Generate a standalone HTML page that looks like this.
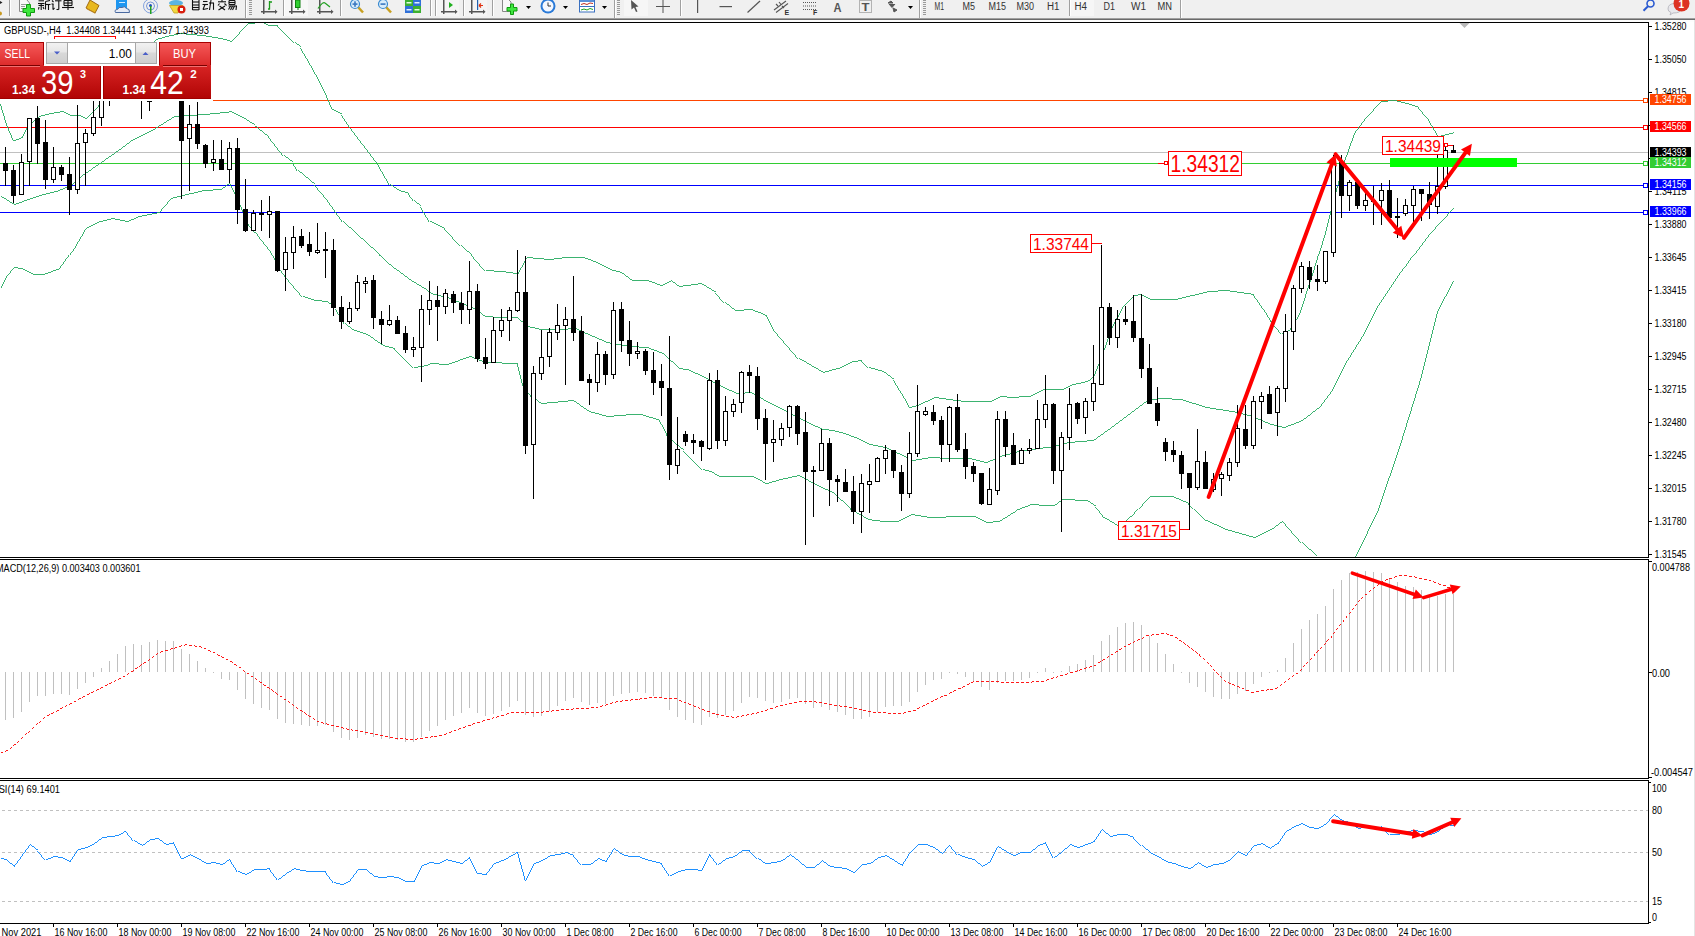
<!DOCTYPE html><html><head><meta charset="utf-8"><style>html,body{margin:0;padding:0;width:1695px;height:936px;overflow:hidden;background:#fff}svg{display:block}text{font-family:"Liberation Sans",sans-serif}</style></head><body>
<svg width="1695" height="936" viewBox="0 0 1695 936">
<defs>
<linearGradient id="gBtn" x1="0" y1="0" x2="0" y2="1"><stop offset="0" stop-color="#f65a5a"/><stop offset="1" stop-color="#dc2a2a"/></linearGradient>
<linearGradient id="gPrice" x1="0" y1="0" x2="0" y2="1"><stop offset="0" stop-color="#d82424"/><stop offset="1" stop-color="#b00404"/></linearGradient>
<linearGradient id="gSpin" x1="0" y1="0" x2="0" y2="1"><stop offset="0" stop-color="#f2f2f2"/><stop offset="0.45" stop-color="#e6e6e6"/><stop offset="0.5" stop-color="#d8d8d8"/><stop offset="1" stop-color="#cfcfcf"/></linearGradient>
<clipPath id="cMain"><rect x="0" y="23" width="1648" height="534"/></clipPath>
<clipPath id="cMacd"><rect x="0" y="560" width="1648" height="218"/></clipPath>
<clipPath id="cRsi"><rect x="0" y="781" width="1648" height="142"/></clipPath>
</defs>
<rect x="0" y="0" width="1695" height="936" fill="#fff"/>
<g id="toolbar">
<rect x="0" y="0" width="1695" height="18" fill="#f0f0f0"/>
<rect x="0" y="18" width="1695" height="1" fill="#a0a0a0"/>
<rect x="0" y="19" width="1695" height="1" fill="#6a6a6a"/>
<rect x="0" y="20" width="1695" height="2" fill="#fdfdfd"/>
<path d="M0 1 L2.5 2.5 L0 4 Z" fill="#222"/>
<circle cx="0" cy="13.5" r="2" fill="#c89a20"/>
<rect x="9" y="0" width="1" height="16" fill="#a0a0a0"/>
<rect x="10" y="0" width="1" height="16" fill="#fff"/>
<path d="M19.5 0 V11.5 H29.5 V3 L27 0" fill="#fafafa" stroke="#8a8a8a" stroke-width="1"/>
<rect x="21" y="4" width="5" height="1" fill="#999"/><rect x="21" y="6" width="4" height="1" fill="#999"/><rect x="21" y="8" width="3" height="1" fill="#999"/>
<path d="M26.5 4.5 H30.5 V8.5 H34.5 V12.5 H30.5 V16 H26.5 V12.5 H23 V8.5 H26.5 Z" fill="#3ee63e" stroke="#0f9a0f" stroke-width="1"/>
<line x1="38.5" y1="0.8" x2="44" y2="0.8" stroke="#111" stroke-width="1.1"/>
<line x1="38" y1="3.5" x2="44.5" y2="3.5" stroke="#111" stroke-width="1.1"/>
<line x1="38.5" y1="5.5" x2="44" y2="5.5" stroke="#111" stroke-width="1.1"/>
<line x1="41.2" y1="3.5" x2="41.2" y2="10" stroke="#111" stroke-width="1.1"/>
<line x1="39" y1="7" x2="38.5" y2="9.5" stroke="#111" stroke-width="1.1"/>
<line x1="43" y1="7" x2="44" y2="9" stroke="#111" stroke-width="1.1"/>
<line x1="45.5" y1="1.5" x2="50" y2="0.5" stroke="#111" stroke-width="1.1"/>
<line x1="45.5" y1="1.5" x2="45.5" y2="9.5" stroke="#111" stroke-width="1.1"/>
<line x1="45.5" y1="4.5" x2="50.5" y2="4.5" stroke="#111" stroke-width="1.1"/>
<line x1="48.5" y1="4.5" x2="48.5" y2="10" stroke="#111" stroke-width="1.1"/>
<line x1="52" y1="0.5" x2="53.5" y2="2" stroke="#111" stroke-width="1.1"/>
<line x1="51.5" y1="4" x2="53.5" y2="4" stroke="#111" stroke-width="1.1"/>
<line x1="53" y1="4" x2="53" y2="9.5" stroke="#111" stroke-width="1.1"/>
<line x1="53" y1="9.5" x2="54.5" y2="8" stroke="#111" stroke-width="1.1"/>
<line x1="55" y1="0.8" x2="61.5" y2="0.8" stroke="#111" stroke-width="1.1"/>
<line x1="58.8" y1="0.8" x2="58.8" y2="9.5" stroke="#111" stroke-width="1.1"/>
<line x1="58.8" y1="9.5" x2="56.5" y2="9.5" stroke="#111" stroke-width="1.1"/>
<line x1="64" y1="0.5" x2="72" y2="0.5" stroke="#111" stroke-width="1.1"/>
<line x1="64" y1="0.5" x2="64" y2="5.5" stroke="#111" stroke-width="1.1"/>
<line x1="72" y1="0.5" x2="72" y2="5.5" stroke="#111" stroke-width="1.1"/>
<line x1="64" y1="3" x2="72" y2="3" stroke="#111" stroke-width="1.1"/>
<line x1="64" y1="5.5" x2="72" y2="5.5" stroke="#111" stroke-width="1.1"/>
<line x1="68" y1="0.5" x2="68" y2="10" stroke="#111" stroke-width="1.1"/>
<line x1="62" y1="7.5" x2="74" y2="7.5" stroke="#111" stroke-width="1.1"/>
<path d="M90 0 L99 5.5 L95 13 L86 8 Z" fill="#e8b820" stroke="#a06a10" stroke-width="1"/>
<path d="M86 8 L95 13 L96 14 L87 9.5 Z" fill="#c89030"/>
<rect x="116" y="0" width="11" height="9" fill="#1e96f0"/>
<rect x="119" y="2" width="6" height="1" fill="#cfe8ff"/>
<path d="M115.5 12.5 Q114 9.5 117.5 9.5 Q118.5 6.5 122 7.5 Q124.5 5.5 126.5 8.5 Q130 8.5 129.5 12.5 Z" fill="#e6ebf5" stroke="#4a6aa0" stroke-width="1"/>
<circle cx="150.5" cy="6" r="7" fill="none" stroke="#6a90d8" stroke-width="1" opacity="0.8"/>
<circle cx="150.5" cy="6" r="4" fill="none" stroke="#5a80d0" stroke-width="1" opacity="0.8"/>
<circle cx="150.5" cy="5.5" r="1.5" fill="#2050c0"/>
<rect x="150" y="6" width="1.5" height="8" fill="#20a020"/>
<ellipse cx="176" cy="3" rx="7" ry="3" fill="#5ab4e0"/>
<path d="M169.5 5.5 L183 5.5 L178 13 L174 13 Z" fill="#f0d840" stroke="#c0a020" stroke-width="0.8"/>
<circle cx="181.5" cy="9.5" r="4" fill="#d82010"/>
<rect x="180" y="8" width="3" height="3" fill="#fff"/>
<line x1="192.5" y1="0" x2="192.5" y2="10" stroke="#111" stroke-width="1.1"/>
<line x1="199" y1="0" x2="199" y2="10" stroke="#111" stroke-width="1.1"/>
<line x1="192.5" y1="2" x2="199" y2="2" stroke="#111" stroke-width="1.1"/>
<line x1="192.5" y1="5" x2="199" y2="5" stroke="#111" stroke-width="1.1"/>
<line x1="192.5" y1="7.5" x2="199" y2="7.5" stroke="#111" stroke-width="1.1"/>
<line x1="192.5" y1="9.8" x2="199" y2="9.8" stroke="#111" stroke-width="1.1"/>
<line x1="203" y1="1.5" x2="207.5" y2="1.5" stroke="#111" stroke-width="1.1"/>
<line x1="202.5" y1="4.5" x2="208" y2="4.5" stroke="#111" stroke-width="1.1"/>
<line x1="205" y1="4.5" x2="203" y2="9.5" stroke="#111" stroke-width="1.1"/>
<line x1="203" y1="9.5" x2="208" y2="8.5" stroke="#111" stroke-width="1.1"/>
<line x1="209" y1="3" x2="214" y2="3" stroke="#111" stroke-width="1.1"/>
<line x1="213.5" y1="3" x2="213.5" y2="9.8" stroke="#111" stroke-width="1.1"/>
<line x1="211" y1="0" x2="209.5" y2="10" stroke="#111" stroke-width="1.1"/>
<line x1="218" y1="1.8" x2="226" y2="1.8" stroke="#111" stroke-width="1.1"/>
<line x1="222" y1="0" x2="222" y2="1.8" stroke="#111" stroke-width="1.1"/>
<line x1="219.5" y1="3.5" x2="218" y2="5.5" stroke="#111" stroke-width="1.1"/>
<line x1="224.5" y1="3.5" x2="226.5" y2="5.5" stroke="#111" stroke-width="1.1"/>
<line x1="219.5" y1="6" x2="225" y2="10" stroke="#111" stroke-width="1.1"/>
<line x1="225" y1="6" x2="218.5" y2="10" stroke="#111" stroke-width="1.1"/>
<line x1="229" y1="0.5" x2="235" y2="0.5" stroke="#111" stroke-width="1.1"/>
<line x1="229" y1="0.5" x2="229" y2="4.5" stroke="#111" stroke-width="1.1"/>
<line x1="235" y1="0.5" x2="235" y2="4.5" stroke="#111" stroke-width="1.1"/>
<line x1="229" y1="2.5" x2="235" y2="2.5" stroke="#111" stroke-width="1.1"/>
<line x1="229" y1="4.5" x2="235" y2="4.5" stroke="#111" stroke-width="1.1"/>
<line x1="228.5" y1="6" x2="237" y2="6" stroke="#111" stroke-width="1.1"/>
<line x1="236.5" y1="6" x2="236" y2="10" stroke="#111" stroke-width="1.1"/>
<line x1="230.5" y1="6" x2="228.5" y2="9.5" stroke="#111" stroke-width="1.1"/>
<line x1="232.5" y1="6" x2="230.5" y2="10" stroke="#111" stroke-width="1.1"/>
<line x1="234.5" y1="6" x2="232.5" y2="10" stroke="#111" stroke-width="1.1"/>
<rect x="245" y="0" width="1" height="18" fill="#a0a0a0"/>
<rect x="246" y="0" width="1" height="18" fill="#fff"/>
<rect x="249" y="0" width="3" height="1" fill="#9a9a9a"/>
<rect x="249" y="2" width="3" height="1" fill="#9a9a9a"/>
<rect x="249" y="4" width="3" height="1" fill="#9a9a9a"/>
<rect x="249" y="6" width="3" height="1" fill="#9a9a9a"/>
<rect x="249" y="8" width="3" height="1" fill="#9a9a9a"/>
<rect x="249" y="10" width="3" height="1" fill="#9a9a9a"/>
<rect x="249" y="12" width="3" height="1" fill="#9a9a9a"/>
<rect x="249" y="14" width="3" height="1" fill="#9a9a9a"/>
<rect x="263" y="0" width="1.5" height="14" fill="#555"/>
<rect x="261" y="11" width="14" height="1.5" fill="#555"/>
<path d="M275 9.5 L277.5 11.75 L275 14 Z" fill="#555"/>
<path d="M269.5 1 V9.5 M268 9 H270 M269.5 2 H272" stroke="#1a9a1a" stroke-width="1.3" fill="none"/>
<rect x="283" y="0" width="1" height="16" fill="#a0a0a0"/>
<rect x="284" y="0" width="1" height="16" fill="#fff"/>
<rect x="285" y="0" width="23" height="16" fill="#f7f7f7"/>
<rect x="291" y="0" width="1.5" height="14" fill="#555"/>
<rect x="289" y="11" width="14" height="1.5" fill="#555"/>
<path d="M303 9.5 L305.5 11.75 L303 14 Z" fill="#555"/>
<rect x="295.5" y="0" width="4.5" height="7.5" fill="#30d030" stroke="#108010" stroke-width="1"/>
<rect x="297.5" y="8" width="1" height="2" fill="#108010"/>
<rect x="319" y="0" width="1.5" height="14" fill="#555"/>
<rect x="317" y="11" width="14" height="1.5" fill="#555"/>
<path d="M331 9.5 L333.5 11.75 L331 14 Z" fill="#555"/>
<path d="M318 8.5 Q323 1 325 3 Q327.5 5 330 7" stroke="#22a022" stroke-width="1.2" fill="none"/>
<rect x="340" y="0" width="1" height="16" fill="#a0a0a0"/>
<rect x="341" y="0" width="1" height="16" fill="#fff"/>
<line x1="358" y1="7" x2="363" y2="12.5" stroke="#c8a020" stroke-width="2.5"/>
<circle cx="355" cy="4" r="4.5" fill="#d8ecfa" stroke="#3a8ad0" stroke-width="1.2"/>
<rect x="352.5" y="3.3" width="5" height="1.6" fill="#3a78c0"/>
<rect x="354.2" y="1.3" width="1.6" height="5.5" fill="#3a78c0"/>
<line x1="386" y1="7" x2="391" y2="12.5" stroke="#c8a020" stroke-width="2.5"/>
<circle cx="383" cy="4" r="4.5" fill="#d8ecfa" stroke="#3a8ad0" stroke-width="1.2"/>
<rect x="380.5" y="3.3" width="5" height="1.6" fill="#3a78c0"/>
<rect x="405" y="0" width="8" height="6" fill="#3cb030"/><rect x="413" y="0" width="8" height="6" fill="#3070d8"/>
<rect x="405" y="6" width="8" height="7" fill="#3070d8"/><rect x="413" y="6" width="8" height="7" fill="#3cb030"/>
<rect x="406.5" y="2" width="5" height="1.5" fill="#e0ffe0"/><rect x="414.5" y="2" width="5" height="1.5" fill="#e0f0ff"/><rect x="406.5" y="9" width="5" height="1.5" fill="#e0f0ff"/><rect x="414.5" y="9" width="5" height="1.5" fill="#e0ffe0"/>
<rect x="430" y="0" width="1" height="16" fill="#a0a0a0"/>
<rect x="431" y="0" width="1" height="16" fill="#fff"/>
<rect x="435" y="0" width="1" height="16" fill="#a0a0a0"/>
<rect x="436" y="0" width="1" height="16" fill="#fff"/>
<rect x="437" y="0" width="22" height="16" fill="#f4f4f4"/>
<rect x="443" y="0" width="1.5" height="14" fill="#555"/>
<rect x="441" y="11" width="14" height="1.5" fill="#555"/>
<path d="M455 9.5 L457.5 11.75 L455 14 Z" fill="#555"/>
<path d="M449 2 L453 5 L449 8 Z" fill="#20b020"/>
<rect x="463" y="0" width="1" height="16" fill="#a0a0a0"/>
<rect x="464" y="0" width="1" height="16" fill="#fff"/>
<rect x="465" y="0" width="22" height="16" fill="#f4f4f4"/>
<rect x="471" y="0" width="1.5" height="14" fill="#555"/>
<rect x="469" y="11" width="14" height="1.5" fill="#555"/>
<path d="M483 9.5 L485.5 11.75 L483 14 Z" fill="#555"/>
<rect x="477" y="0" width="1.2" height="10" fill="#2060b0"/><path d="M479 5.5 H483 M479 5.5 L481 3.5 M479 5.5 L481 7.5" stroke="#e03010" stroke-width="1.2" fill="none"/>
<rect x="492" y="0" width="1" height="16" fill="#a0a0a0"/>
<rect x="493" y="0" width="1" height="16" fill="#fff"/>
<path d="M502.5 0 V11.5 H511 V2 L509 0" fill="#f8f8f8" stroke="#888" stroke-width="1"/>
<path d="M510.5 4 H513.5 V7.5 H517 V11 H513.5 V14.5 H510.5 V11 H507 V7.5 H510.5 Z" fill="#3ee63e" stroke="#0f9a0f" stroke-width="1"/>
<path d="M526 6 L531 6 L528.5 9 Z" fill="#000"/>
<circle cx="548" cy="6" r="7.5" fill="#2a7ad8"/><circle cx="548" cy="6" r="5.5" fill="#f4f8ff"/>
<path d="M548 2.5 V6 H551" stroke="#333" stroke-width="1" fill="none"/>
<path d="M563 6 L568 6 L565.5 9 Z" fill="#000"/>
<rect x="579.5" y="0" width="15" height="12" fill="#fff" stroke="#3a70c0" stroke-width="1"/>
<rect x="580" y="0" width="14" height="2" fill="#5a90d8"/><rect x="580" y="6" width="14" height="1" fill="#3a70c0"/>
<path d="M581 4.5 L584 3.5 L587 4.5 L590 3 L593 3.5" stroke="#c03020" stroke-width="1" fill="none"/>
<path d="M581 10 L584 9 L587 10 L590 8.5 L593 9.5" stroke="#20a020" stroke-width="1" fill="none"/>
<path d="M602 6 L607 6 L604.5 9 Z" fill="#000"/>
<rect x="614" y="0" width="1" height="18" fill="#a0a0a0"/>
<rect x="615" y="0" width="1" height="18" fill="#fff"/>
<rect x="617" y="0" width="3" height="1" fill="#9a9a9a"/>
<rect x="617" y="2" width="3" height="1" fill="#9a9a9a"/>
<rect x="617" y="4" width="3" height="1" fill="#9a9a9a"/>
<rect x="617" y="6" width="3" height="1" fill="#9a9a9a"/>
<rect x="617" y="8" width="3" height="1" fill="#9a9a9a"/>
<rect x="617" y="10" width="3" height="1" fill="#9a9a9a"/>
<rect x="617" y="12" width="3" height="1" fill="#9a9a9a"/>
<rect x="617" y="14" width="3" height="1" fill="#9a9a9a"/>
<rect x="624" y="0" width="24" height="16" fill="#f6f6f6"/>
<path d="M631 0 L638.5 6.5 L635.5 7 L637.5 11.5 L636 12 L634 7.5 L631.5 9.5 Z" fill="#555"/>
<rect x="662.5" y="0" width="1" height="13" fill="#555"/><rect x="656" y="6" width="14" height="1" fill="#555"/>
<rect x="680" y="0" width="1" height="16" fill="#a0a0a0"/>
<rect x="681" y="0" width="1" height="16" fill="#fff"/>
<rect x="697" y="0" width="1.2" height="13" fill="#555"/>
<rect x="719.5" y="6" width="12.5" height="1.2" fill="#555"/>
<line x1="747.5" y1="12.5" x2="760" y2="1" stroke="#555" stroke-width="1.2"/>
<path d="M774 10 L786 1 M776 12.5 L788 3.5 M776 4 L778 6 M779 2 L781 4.5 M782 6 L784 8" stroke="#555" stroke-width="1.1" fill="none"/>
<text x="784.5" y="15" font-size="7" font-weight="bold" fill="#333">E</text>
<path d="M803 2.5 H816 M803 6 H816 M803 9.5 H816" stroke="#555" stroke-width="1" stroke-dasharray="1,1" fill="none"/>
<text x="813" y="15" font-size="7" font-weight="bold" fill="#333">F</text>
<text x="833.5" y="11.5" font-size="12" font-weight="bold" fill="#555" textLength="8" lengthAdjust="spacingAndGlyphs">A</text>
<rect x="859.5" y="0.5" width="12" height="12" fill="none" stroke="#777" stroke-width="1" stroke-dasharray="1,1"/>
<text x="861.5" y="10.5" font-size="11" font-weight="bold" fill="#555" textLength="8" lengthAdjust="spacingAndGlyphs">T</text>
<path d="M888 3 L891 1 L893 3 Z M889 4 L892 7.5 L895 4 M893 8 L897 10 L894 12 Z" fill="#555" stroke="#555" stroke-width="1"/>
<path d="M908 6 L913 6 L910.5 9 Z" fill="#000"/>
<rect x="919" y="0" width="1" height="18" fill="#a0a0a0"/>
<rect x="920" y="0" width="1" height="18" fill="#fff"/>
<rect x="923" y="0" width="3" height="1" fill="#9a9a9a"/>
<rect x="923" y="2" width="3" height="1" fill="#9a9a9a"/>
<rect x="923" y="4" width="3" height="1" fill="#9a9a9a"/>
<rect x="923" y="6" width="3" height="1" fill="#9a9a9a"/>
<rect x="923" y="8" width="3" height="1" fill="#9a9a9a"/>
<rect x="923" y="10" width="3" height="1" fill="#9a9a9a"/>
<rect x="923" y="12" width="3" height="1" fill="#9a9a9a"/>
<rect x="923" y="14" width="3" height="1" fill="#9a9a9a"/>
<text x="934.5" y="10.3" font-size="10" fill="#333" textLength="9.5" lengthAdjust="spacingAndGlyphs">M1</text>
<text x="962.5" y="10.3" font-size="10" fill="#333" textLength="12.5" lengthAdjust="spacingAndGlyphs">M5</text>
<text x="988.5" y="10.3" font-size="10" fill="#333" textLength="17.5" lengthAdjust="spacingAndGlyphs">M15</text>
<text x="1016.5" y="10.3" font-size="10" fill="#333" textLength="17.5" lengthAdjust="spacingAndGlyphs">M30</text>
<text x="1047" y="10.3" font-size="10" fill="#333" textLength="12.5" lengthAdjust="spacingAndGlyphs">H1</text>
<rect x="1069" y="0" width="1" height="16" fill="#a0a0a0"/>
<rect x="1070" y="0" width="1" height="16" fill="#fff"/>
<rect x="1071" y="0" width="23" height="16" fill="#f6f6f6"/>
<text x="1074.5" y="10.3" font-size="10" fill="#333" textLength="12.5" lengthAdjust="spacingAndGlyphs">H4</text>
<text x="1103.5" y="10.3" font-size="10" fill="#333" textLength="11.5" lengthAdjust="spacingAndGlyphs">D1</text>
<text x="1131" y="10.3" font-size="10" fill="#333" textLength="15" lengthAdjust="spacingAndGlyphs">W1</text>
<text x="1157.5" y="10.3" font-size="10" fill="#333" textLength="14.5" lengthAdjust="spacingAndGlyphs">MN</text>
<rect x="1180" y="0" width="1" height="18" fill="#a0a0a0"/>
<rect x="1181" y="0" width="1" height="18" fill="#fff"/>
<circle cx="1650.5" cy="3.5" r="3.5" fill="none" stroke="#2a5ad0" stroke-width="1.6"/>
<line x1="1648" y1="6.3" x2="1643.5" y2="10.8" stroke="#2a5ad0" stroke-width="2"/>
<path d="M1668 9 Q1668 3.5 1675 3.5 Q1681 3.5 1681 9 Q1681 13 1673 13 L1670 15 L1671 12.5 Q1668 11.5 1668 9 Z" fill="#e8e8ec" stroke="#b0b0b8" stroke-width="0.8"/>
<circle cx="1681.5" cy="3.5" r="8" fill="#dd3322"/>
<text x="1678.5" y="7.5" font-size="10" font-weight="bold" fill="#fff">1</text>
</g>
<rect x="1694" y="20" width="1" height="916" fill="#e4e4e4"/>
<rect x="0" y="22" width="1649" height="1" fill="#000"/>
<rect x="1648" y="22" width="1" height="536" fill="#000"/>
<rect x="0" y="557" width="1649" height="1" fill="#000"/>
<path d="M1459.5 23 L1469.5 23 L1464.5 28 Z" fill="#b8b8b8"/>
<g clip-path="url(#cMain)">
<rect x="0" y="152" width="1648" height="1" fill="#c0c0c0"/>
<rect x="0" y="163" width="1648" height="1" fill="#32cd32"/>
<rect x="0" y="185" width="1648" height="1" fill="#0000ff"/>
<rect x="0" y="212" width="1648" height="1" fill="#0000ff"/>
<rect x="0" y="127" width="1648" height="1" fill="#ff0000"/>
<rect x="213" y="100" width="1435" height="1" fill="#ff4500"/>
<polyline points="0.5,103.5 6.5,123.5 13.5,140.5 21.5,137.5 28.5,124.5 38.5,116.5 49.5,113.5 62.5,111.5 70.5,115.5 79.5,115.5 85.5,118.5 96.5,107.5 100.5,102.5 130.5,60.5 155.5,39.5 165.5,36.5 179.5,33.5 201.5,35.5 220.5,38.5 230.5,41.5 247.5,23.5 262.5,22.5 268.5,25.5 277.5,25.5 294.5,42.5 300.5,47.5 306.5,57.5 315.5,73.5 326.5,95.5 332.5,109.5 341.5,114.5 349.5,126.5 362.5,143.5 377.5,163.5 389.5,184.5 398.5,190.5 408.5,193.5 413.5,200.5 420.5,206.5 429.5,221.5 444.5,228.5 460.5,245.5 473.5,257.5 485.5,270.5 500.5,271.5 517.5,273.5 526.5,257.5 548.5,259.5 564.5,257.5 582.5,257.5 596.5,262.5 609.5,269.5 620.5,272.5 631.5,280.5 646.5,280.5 660.5,285.5 670.5,280.5 678.5,286.5 700.5,283.5 715.5,292.5 724.5,302.5 734.5,310.5 750.5,309.5 766.5,315.5 774.5,330.5 798.5,358.5 822.5,372.5 832.5,369.5 840.5,367.5 851.5,361.5 861.5,360.5 868.5,367.5 882.5,371.5 893.5,379.5 904.5,397.5 909.5,407.5 916.5,405.5 934.5,397.5 948.5,399.5 963.5,401.5 989.5,401.5 1000.5,396.5 1010.5,397.5 1028.5,396.5 1042.5,389.5 1061.5,389.5 1072.5,384.5 1086.5,381.5 1093.5,376.5 1101.5,356.5 1112.5,325.5 1123.5,305.5 1133.5,295.5 1140.5,294.5 1149.5,299.5 1174.5,299.5 1208.5,291.5 1225.5,290.5 1253.5,294.5 1265.5,311.5 1271.5,321.5 1281.5,333.5 1289.5,329.5 1299.5,313.5 1310.5,279.5 1314.5,267.5 1324.5,235.5 1335.5,192.5 1344.5,160.5 1354.5,132.5 1365.5,117.5 1380.5,101.5 1393.5,100.5 1406.5,103.5 1418.5,107.5 1427.5,117.5 1438.5,136.5 1453.5,132.5" fill="none" stroke="#26ab61" stroke-width="1" shape-rendering="crispEdges" style="stroke-width:0.9"/>
<polyline points="0.5,196.5 13.5,204.5 27.5,199.5 42.5,194.5 55.5,191.5 70.5,185.5 81.5,175.5 100.5,162.5 117.5,150.5 132.5,139.5 149.5,131.5 162.5,123.5 173.5,116.5 203.5,114.5 224.5,112.5 230.5,111.5 240.5,116.5 253.5,124.5 268.5,136.5 283.5,155.5 292.5,162.5 297.5,170.5 314.5,184.5 326.5,198.5 342.5,221.5 356.5,234.5 375.5,251.5 394.5,268.5 410.5,280.5 425.5,289.5 430.5,293.5 446.5,297.5 473.5,308.5 484.5,316.5 500.5,317.5 516.5,317.5 526.5,326.5 540.5,329.5 558.5,329.5 574.5,328.5 585.5,333.5 606.5,342.5 628.5,346.5 646.5,347.5 662.5,353.5 678.5,368.5 686.5,369.5 704.5,377.5 720.5,386.5 736.5,393.5 750.5,392.5 768.5,402.5 787.5,412.5 806.5,422.5 822.5,429.5 832.5,430.5 840.5,432.5 857.5,438.5 869.5,444.5 884.5,447.5 897.5,453.5 912.5,460.5 929.5,457.5 948.5,458.5 968.5,458.5 985.5,462.5 1002.5,455.5 1019.5,451.5 1038.5,448.5 1053.5,446.5 1067.5,442.5 1092.5,440.5 1106.5,430.5 1126.5,415.5 1146.5,400.5 1160.5,398.5 1180.5,399.5 1205.5,407.5 1231.5,411.5 1248.5,415.5 1270.5,424.5 1283.5,427.5 1301.5,420.5 1319.5,406.5 1331.5,390.5 1347.5,359.5 1362.5,335.5 1378.5,304.5 1400.5,271.5 1408.5,261.5 1429.5,233.5 1453.5,207.5" fill="none" stroke="#26ab61" stroke-width="1" shape-rendering="crispEdges" style="stroke-width:0.9"/>
<polyline points="0.5,287.5 6.5,275.5 13.5,267.5 21.5,268.5 32.5,274.5 42.5,274.5 59.5,268.5 74.5,247.5 85.5,228.5 96.5,222.5 111.5,218.5 126.5,221.5 138.5,216.5 158.5,212.5 170.5,198.5 181.5,195.5 203.5,190.5 220.5,189.5 229.5,182.5 239.5,202.5 248.5,224.5 257.5,234.5 269.5,249.5 279.5,268.5 290.5,282.5 302.5,296.5 314.5,300.5 326.5,301.5 335.5,308.5 344.5,323.5 351.5,329.5 366.5,334.5 382.5,345.5 394.5,348.5 413.5,367.5 425.5,365.5 430.5,363.5 446.5,364.5 469.5,356.5 484.5,362.5 517.5,363.5 522.5,384.5 532.5,397.5 540.5,403.5 572.5,400.5 588.5,411.5 606.5,416.5 630.5,414.5 640.5,414.5 659.5,420.5 664.5,428.5 668.5,438.5 683.5,450.5 702.5,469.5 710.5,471.5 718.5,476.5 752.5,476.5 766.5,483.5 779.5,479.5 798.5,475.5 816.5,485.5 832.5,492.5 850.5,509.5 867.5,519.5 882.5,521.5 897.5,521.5 910.5,514.5 929.5,517.5 959.5,516.5 974.5,516.5 985.5,522.5 998.5,521.5 1017.5,509.5 1030.5,504.5 1045.5,505.5 1053.5,505.5 1061.5,499.5 1086.5,500.5 1095.5,506.5 1103.5,517.5 1118.5,526.5 1134.5,512.5 1149.5,496.5 1171.5,496.5 1188.5,503.5 1205.5,520.5 1225.5,529.5 1253.5,537.5 1270.5,529.5 1282.5,520.5 1301.5,542.5 1316.5,556.5 1330.5,575.5 1345.5,575.5 1355.5,556.5 1378.5,508.5 1400.5,443.5 1421.5,375.5 1437.5,310.5 1453.5,280.5" fill="none" stroke="#26ab61" stroke-width="1" shape-rendering="crispEdges" style="stroke-width:0.9"/>
<g shape-rendering="crispEdges">
<rect x="5" y="147" width="1" height="39" fill="#000"/>
<rect x="3" y="163" width="5" height="8" fill="#000"/>
<rect x="13" y="165" width="1" height="38" fill="#000"/>
<rect x="11" y="170" width="5" height="26" fill="#000"/>
<rect x="21" y="154" width="1" height="41" fill="#000"/>
<rect x="19" y="162" width="5" height="33" fill="#000"/>
<rect x="20" y="163" width="3" height="31" fill="#fff"/>
<rect x="29" y="118" width="1" height="68" fill="#000"/>
<rect x="27" y="118" width="5" height="44" fill="#000"/>
<rect x="28" y="119" width="3" height="42" fill="#fff"/>
<rect x="37" y="106" width="1" height="58" fill="#000"/>
<rect x="35" y="118" width="5" height="26" fill="#000"/>
<rect x="45" y="120" width="1" height="69" fill="#000"/>
<rect x="43" y="142" width="5" height="38" fill="#000"/>
<rect x="53" y="147" width="1" height="36" fill="#000"/>
<rect x="51" y="167" width="5" height="13" fill="#000"/>
<rect x="52" y="168" width="3" height="11" fill="#fff"/>
<rect x="61" y="165" width="1" height="16" fill="#000"/>
<rect x="59" y="167" width="5" height="8" fill="#000"/>
<rect x="69" y="157" width="1" height="58" fill="#000"/>
<rect x="67" y="174" width="5" height="16" fill="#000"/>
<rect x="77" y="105" width="1" height="89" fill="#000"/>
<rect x="75" y="143" width="5" height="47" fill="#000"/>
<rect x="76" y="144" width="3" height="45" fill="#fff"/>
<rect x="85" y="129" width="1" height="57" fill="#000"/>
<rect x="83" y="133" width="5" height="10" fill="#000"/>
<rect x="84" y="134" width="3" height="8" fill="#fff"/>
<rect x="93" y="95" width="1" height="41" fill="#000"/>
<rect x="91" y="117" width="5" height="17" fill="#000"/>
<rect x="92" y="118" width="3" height="15" fill="#fff"/>
<rect x="101" y="80" width="1" height="46" fill="#000"/>
<rect x="99" y="90" width="5" height="28" fill="#000"/>
<rect x="100" y="91" width="3" height="26" fill="#fff"/>
<rect x="109" y="70" width="1" height="36" fill="#000"/>
<rect x="107" y="80" width="5" height="16" fill="#000"/>
<rect x="117" y="60" width="1" height="36" fill="#000"/>
<rect x="115" y="70" width="5" height="16" fill="#000"/>
<rect x="116" y="71" width="3" height="14" fill="#fff"/>
<rect x="125" y="55" width="1" height="36" fill="#000"/>
<rect x="123" y="62" width="5" height="19" fill="#000"/>
<rect x="124" y="63" width="3" height="17" fill="#fff"/>
<rect x="133" y="50" width="1" height="36" fill="#000"/>
<rect x="131" y="58" width="5" height="15" fill="#000"/>
<rect x="141" y="60" width="1" height="59" fill="#000"/>
<rect x="139" y="70" width="5" height="16" fill="#000"/>
<rect x="149" y="70" width="1" height="41" fill="#000"/>
<rect x="147" y="85" width="5" height="17" fill="#000"/>
<rect x="148" y="86" width="3" height="15" fill="#fff"/>
<rect x="157" y="60" width="1" height="31" fill="#000"/>
<rect x="155" y="70" width="5" height="11" fill="#000"/>
<rect x="156" y="71" width="3" height="9" fill="#fff"/>
<rect x="165" y="55" width="1" height="34" fill="#000"/>
<rect x="163" y="65" width="5" height="14" fill="#000"/>
<rect x="173" y="60" width="1" height="33" fill="#000"/>
<rect x="171" y="70" width="5" height="16" fill="#000"/>
<rect x="172" y="71" width="3" height="14" fill="#fff"/>
<rect x="181" y="70" width="1" height="129" fill="#000"/>
<rect x="179" y="80" width="5" height="61" fill="#000"/>
<rect x="189" y="105" width="1" height="86" fill="#000"/>
<rect x="187" y="124" width="5" height="15" fill="#000"/>
<rect x="188" y="125" width="3" height="13" fill="#fff"/>
<rect x="197" y="102" width="1" height="47" fill="#000"/>
<rect x="195" y="124" width="5" height="20" fill="#000"/>
<rect x="205" y="144" width="1" height="24" fill="#000"/>
<rect x="203" y="145" width="5" height="19" fill="#000"/>
<rect x="213" y="140" width="1" height="31" fill="#000"/>
<rect x="211" y="159" width="5" height="4" fill="#000"/>
<rect x="212" y="160" width="3" height="2" fill="#fff"/>
<rect x="221" y="140" width="1" height="30" fill="#000"/>
<rect x="219" y="159" width="5" height="11" fill="#000"/>
<rect x="229" y="142" width="1" height="41" fill="#000"/>
<rect x="227" y="148" width="5" height="22" fill="#000"/>
<rect x="228" y="149" width="3" height="20" fill="#fff"/>
<rect x="237" y="138" width="1" height="86" fill="#000"/>
<rect x="235" y="148" width="5" height="62" fill="#000"/>
<rect x="245" y="179" width="1" height="53" fill="#000"/>
<rect x="243" y="209" width="5" height="22" fill="#000"/>
<rect x="253" y="210" width="1" height="21" fill="#000"/>
<rect x="251" y="213" width="5" height="18" fill="#000"/>
<rect x="252" y="214" width="3" height="16" fill="#fff"/>
<rect x="261" y="200" width="1" height="31" fill="#000"/>
<rect x="259" y="213" width="5" height="2" fill="#000"/>
<rect x="269" y="196" width="1" height="42" fill="#000"/>
<rect x="267" y="211" width="5" height="4" fill="#000"/>
<rect x="268" y="212" width="3" height="2" fill="#fff"/>
<rect x="277" y="211" width="1" height="61" fill="#000"/>
<rect x="275" y="211" width="5" height="60" fill="#000"/>
<rect x="285" y="237" width="1" height="54" fill="#000"/>
<rect x="283" y="252" width="5" height="18" fill="#000"/>
<rect x="284" y="253" width="3" height="16" fill="#fff"/>
<rect x="293" y="226" width="1" height="43" fill="#000"/>
<rect x="291" y="237" width="5" height="16" fill="#000"/>
<rect x="292" y="238" width="3" height="14" fill="#fff"/>
<rect x="301" y="229" width="1" height="19" fill="#000"/>
<rect x="299" y="236" width="5" height="10" fill="#000"/>
<rect x="309" y="232" width="1" height="24" fill="#000"/>
<rect x="307" y="244" width="5" height="8" fill="#000"/>
<rect x="317" y="223" width="1" height="31" fill="#000"/>
<rect x="315" y="250" width="5" height="3" fill="#000"/>
<rect x="316" y="251" width="3" height="1" fill="#fff"/>
<rect x="325" y="232" width="1" height="46" fill="#000"/>
<rect x="323" y="249" width="5" height="2" fill="#000"/>
<rect x="333" y="239" width="1" height="77" fill="#000"/>
<rect x="331" y="250" width="5" height="58" fill="#000"/>
<rect x="341" y="296" width="1" height="33" fill="#000"/>
<rect x="339" y="307" width="5" height="15" fill="#000"/>
<rect x="349" y="302" width="1" height="22" fill="#000"/>
<rect x="347" y="308" width="5" height="14" fill="#000"/>
<rect x="348" y="309" width="3" height="12" fill="#fff"/>
<rect x="357" y="275" width="1" height="36" fill="#000"/>
<rect x="355" y="282" width="5" height="27" fill="#000"/>
<rect x="356" y="283" width="3" height="25" fill="#fff"/>
<rect x="365" y="277" width="1" height="16" fill="#000"/>
<rect x="363" y="281" width="5" height="3" fill="#000"/>
<rect x="364" y="282" width="3" height="1" fill="#fff"/>
<rect x="373" y="275" width="1" height="54" fill="#000"/>
<rect x="371" y="280" width="5" height="38" fill="#000"/>
<rect x="381" y="311" width="1" height="33" fill="#000"/>
<rect x="379" y="319" width="5" height="6" fill="#000"/>
<rect x="389" y="305" width="1" height="21" fill="#000"/>
<rect x="387" y="320" width="5" height="5" fill="#000"/>
<rect x="388" y="321" width="3" height="3" fill="#fff"/>
<rect x="397" y="316" width="1" height="18" fill="#000"/>
<rect x="395" y="320" width="5" height="14" fill="#000"/>
<rect x="405" y="326" width="1" height="27" fill="#000"/>
<rect x="403" y="333" width="5" height="17" fill="#000"/>
<rect x="413" y="337" width="1" height="20" fill="#000"/>
<rect x="411" y="347" width="5" height="3" fill="#000"/>
<rect x="412" y="348" width="3" height="1" fill="#fff"/>
<rect x="421" y="295" width="1" height="87" fill="#000"/>
<rect x="419" y="309" width="5" height="39" fill="#000"/>
<rect x="420" y="310" width="3" height="37" fill="#fff"/>
<rect x="429" y="281" width="1" height="44" fill="#000"/>
<rect x="427" y="300" width="5" height="10" fill="#000"/>
<rect x="428" y="301" width="3" height="8" fill="#fff"/>
<rect x="437" y="286" width="1" height="55" fill="#000"/>
<rect x="435" y="300" width="5" height="7" fill="#000"/>
<rect x="445" y="289" width="1" height="25" fill="#000"/>
<rect x="443" y="293" width="5" height="14" fill="#000"/>
<rect x="444" y="294" width="3" height="12" fill="#fff"/>
<rect x="453" y="291" width="1" height="22" fill="#000"/>
<rect x="451" y="294" width="5" height="9" fill="#000"/>
<rect x="461" y="292" width="1" height="32" fill="#000"/>
<rect x="459" y="303" width="5" height="7" fill="#000"/>
<rect x="469" y="261" width="1" height="63" fill="#000"/>
<rect x="467" y="291" width="5" height="19" fill="#000"/>
<rect x="468" y="292" width="3" height="17" fill="#fff"/>
<rect x="477" y="284" width="1" height="78" fill="#000"/>
<rect x="475" y="291" width="5" height="68" fill="#000"/>
<rect x="485" y="338" width="1" height="31" fill="#000"/>
<rect x="483" y="357" width="5" height="7" fill="#000"/>
<rect x="493" y="317" width="1" height="46" fill="#000"/>
<rect x="491" y="330" width="5" height="33" fill="#000"/>
<rect x="492" y="331" width="3" height="31" fill="#fff"/>
<rect x="501" y="309" width="1" height="28" fill="#000"/>
<rect x="499" y="320" width="5" height="11" fill="#000"/>
<rect x="500" y="321" width="3" height="9" fill="#fff"/>
<rect x="509" y="307" width="1" height="34" fill="#000"/>
<rect x="507" y="310" width="5" height="11" fill="#000"/>
<rect x="508" y="311" width="3" height="9" fill="#fff"/>
<rect x="517" y="250" width="1" height="62" fill="#000"/>
<rect x="515" y="292" width="5" height="19" fill="#000"/>
<rect x="516" y="293" width="3" height="17" fill="#fff"/>
<rect x="525" y="256" width="1" height="198" fill="#000"/>
<rect x="523" y="292" width="5" height="154" fill="#000"/>
<rect x="533" y="366" width="1" height="133" fill="#000"/>
<rect x="531" y="373" width="5" height="72" fill="#000"/>
<rect x="532" y="374" width="3" height="70" fill="#fff"/>
<rect x="541" y="330" width="1" height="50" fill="#000"/>
<rect x="539" y="357" width="5" height="17" fill="#000"/>
<rect x="540" y="358" width="3" height="15" fill="#fff"/>
<rect x="549" y="328" width="1" height="39" fill="#000"/>
<rect x="547" y="332" width="5" height="25" fill="#000"/>
<rect x="548" y="333" width="3" height="23" fill="#fff"/>
<rect x="557" y="304" width="1" height="36" fill="#000"/>
<rect x="555" y="325" width="5" height="8" fill="#000"/>
<rect x="556" y="326" width="3" height="6" fill="#fff"/>
<rect x="565" y="307" width="1" height="78" fill="#000"/>
<rect x="563" y="319" width="5" height="7" fill="#000"/>
<rect x="564" y="320" width="3" height="5" fill="#fff"/>
<rect x="573" y="276" width="1" height="65" fill="#000"/>
<rect x="571" y="319" width="5" height="14" fill="#000"/>
<rect x="581" y="316" width="1" height="65" fill="#000"/>
<rect x="579" y="331" width="5" height="50" fill="#000"/>
<rect x="589" y="374" width="1" height="31" fill="#000"/>
<rect x="587" y="379" width="5" height="4" fill="#000"/>
<rect x="597" y="342" width="1" height="50" fill="#000"/>
<rect x="595" y="354" width="5" height="29" fill="#000"/>
<rect x="596" y="355" width="3" height="27" fill="#fff"/>
<rect x="605" y="351" width="1" height="34" fill="#000"/>
<rect x="603" y="354" width="5" height="21" fill="#000"/>
<rect x="613" y="302" width="1" height="77" fill="#000"/>
<rect x="611" y="310" width="5" height="65" fill="#000"/>
<rect x="612" y="311" width="3" height="63" fill="#fff"/>
<rect x="621" y="302" width="1" height="50" fill="#000"/>
<rect x="619" y="309" width="5" height="32" fill="#000"/>
<rect x="629" y="321" width="1" height="45" fill="#000"/>
<rect x="627" y="340" width="5" height="14" fill="#000"/>
<rect x="637" y="342" width="1" height="17" fill="#000"/>
<rect x="635" y="351" width="5" height="3" fill="#000"/>
<rect x="636" y="352" width="3" height="1" fill="#fff"/>
<rect x="645" y="349" width="1" height="26" fill="#000"/>
<rect x="643" y="351" width="5" height="20" fill="#000"/>
<rect x="653" y="352" width="1" height="43" fill="#000"/>
<rect x="651" y="370" width="5" height="13" fill="#000"/>
<rect x="661" y="364" width="1" height="52" fill="#000"/>
<rect x="659" y="381" width="5" height="7" fill="#000"/>
<rect x="669" y="336" width="1" height="144" fill="#000"/>
<rect x="667" y="388" width="5" height="77" fill="#000"/>
<rect x="677" y="417" width="1" height="57" fill="#000"/>
<rect x="675" y="449" width="5" height="17" fill="#000"/>
<rect x="676" y="450" width="3" height="15" fill="#fff"/>
<rect x="685" y="431" width="1" height="15" fill="#000"/>
<rect x="683" y="434" width="5" height="8" fill="#000"/>
<rect x="693" y="434" width="1" height="20" fill="#000"/>
<rect x="691" y="440" width="5" height="3" fill="#000"/>
<rect x="701" y="440" width="1" height="21" fill="#000"/>
<rect x="699" y="441" width="5" height="6" fill="#000"/>
<rect x="709" y="373" width="1" height="77" fill="#000"/>
<rect x="707" y="380" width="5" height="69" fill="#000"/>
<rect x="708" y="381" width="3" height="67" fill="#fff"/>
<rect x="717" y="370" width="1" height="79" fill="#000"/>
<rect x="715" y="380" width="5" height="61" fill="#000"/>
<rect x="725" y="396" width="1" height="50" fill="#000"/>
<rect x="723" y="411" width="5" height="30" fill="#000"/>
<rect x="724" y="412" width="3" height="28" fill="#fff"/>
<rect x="733" y="399" width="1" height="18" fill="#000"/>
<rect x="731" y="404" width="5" height="8" fill="#000"/>
<rect x="732" y="405" width="3" height="6" fill="#fff"/>
<rect x="741" y="371" width="1" height="42" fill="#000"/>
<rect x="739" y="372" width="5" height="31" fill="#000"/>
<rect x="740" y="373" width="3" height="29" fill="#fff"/>
<rect x="749" y="365" width="1" height="28" fill="#000"/>
<rect x="747" y="372" width="5" height="4" fill="#000"/>
<rect x="757" y="367" width="1" height="63" fill="#000"/>
<rect x="755" y="376" width="5" height="43" fill="#000"/>
<rect x="765" y="409" width="1" height="71" fill="#000"/>
<rect x="763" y="418" width="5" height="26" fill="#000"/>
<rect x="773" y="420" width="1" height="42" fill="#000"/>
<rect x="771" y="439" width="5" height="4" fill="#000"/>
<rect x="772" y="440" width="3" height="2" fill="#fff"/>
<rect x="781" y="423" width="1" height="23" fill="#000"/>
<rect x="779" y="428" width="5" height="12" fill="#000"/>
<rect x="780" y="429" width="3" height="10" fill="#fff"/>
<rect x="789" y="405" width="1" height="32" fill="#000"/>
<rect x="787" y="406" width="5" height="22" fill="#000"/>
<rect x="788" y="407" width="3" height="20" fill="#fff"/>
<rect x="797" y="405" width="1" height="40" fill="#000"/>
<rect x="795" y="406" width="5" height="28" fill="#000"/>
<rect x="805" y="412" width="1" height="133" fill="#000"/>
<rect x="803" y="432" width="5" height="40" fill="#000"/>
<rect x="813" y="466" width="1" height="51" fill="#000"/>
<rect x="811" y="470" width="5" height="2" fill="#000"/>
<rect x="821" y="429" width="1" height="42" fill="#000"/>
<rect x="819" y="443" width="5" height="28" fill="#000"/>
<rect x="820" y="444" width="3" height="26" fill="#fff"/>
<rect x="829" y="438" width="1" height="68" fill="#000"/>
<rect x="827" y="443" width="5" height="37" fill="#000"/>
<rect x="837" y="475" width="1" height="27" fill="#000"/>
<rect x="835" y="479" width="5" height="3" fill="#000"/>
<rect x="845" y="469" width="1" height="23" fill="#000"/>
<rect x="843" y="482" width="5" height="10" fill="#000"/>
<rect x="853" y="476" width="1" height="48" fill="#000"/>
<rect x="851" y="491" width="5" height="21" fill="#000"/>
<rect x="861" y="474" width="1" height="59" fill="#000"/>
<rect x="859" y="483" width="5" height="29" fill="#000"/>
<rect x="860" y="484" width="3" height="27" fill="#fff"/>
<rect x="869" y="464" width="1" height="49" fill="#000"/>
<rect x="867" y="481" width="5" height="4" fill="#000"/>
<rect x="868" y="482" width="3" height="2" fill="#fff"/>
<rect x="877" y="457" width="1" height="25" fill="#000"/>
<rect x="875" y="458" width="5" height="24" fill="#000"/>
<rect x="876" y="459" width="3" height="22" fill="#fff"/>
<rect x="885" y="445" width="1" height="29" fill="#000"/>
<rect x="883" y="450" width="5" height="9" fill="#000"/>
<rect x="884" y="451" width="3" height="7" fill="#fff"/>
<rect x="893" y="450" width="1" height="28" fill="#000"/>
<rect x="891" y="450" width="5" height="21" fill="#000"/>
<rect x="901" y="465" width="1" height="46" fill="#000"/>
<rect x="899" y="472" width="5" height="22" fill="#000"/>
<rect x="909" y="432" width="1" height="66" fill="#000"/>
<rect x="907" y="453" width="5" height="41" fill="#000"/>
<rect x="908" y="454" width="3" height="39" fill="#fff"/>
<rect x="917" y="385" width="1" height="72" fill="#000"/>
<rect x="915" y="411" width="5" height="43" fill="#000"/>
<rect x="916" y="412" width="3" height="41" fill="#fff"/>
<rect x="925" y="407" width="1" height="9" fill="#000"/>
<rect x="923" y="411" width="5" height="4" fill="#000"/>
<rect x="924" y="412" width="3" height="2" fill="#fff"/>
<rect x="933" y="405" width="1" height="20" fill="#000"/>
<rect x="931" y="412" width="5" height="9" fill="#000"/>
<rect x="941" y="416" width="1" height="46" fill="#000"/>
<rect x="939" y="420" width="5" height="25" fill="#000"/>
<rect x="949" y="406" width="1" height="56" fill="#000"/>
<rect x="947" y="407" width="5" height="38" fill="#000"/>
<rect x="948" y="408" width="3" height="36" fill="#fff"/>
<rect x="957" y="394" width="1" height="58" fill="#000"/>
<rect x="955" y="407" width="5" height="43" fill="#000"/>
<rect x="965" y="433" width="1" height="46" fill="#000"/>
<rect x="963" y="449" width="5" height="18" fill="#000"/>
<rect x="973" y="462" width="1" height="20" fill="#000"/>
<rect x="971" y="466" width="5" height="8" fill="#000"/>
<rect x="981" y="473" width="1" height="32" fill="#000"/>
<rect x="979" y="473" width="5" height="31" fill="#000"/>
<rect x="989" y="468" width="1" height="37" fill="#000"/>
<rect x="987" y="489" width="5" height="16" fill="#000"/>
<rect x="988" y="490" width="3" height="14" fill="#fff"/>
<rect x="997" y="411" width="1" height="84" fill="#000"/>
<rect x="995" y="419" width="5" height="72" fill="#000"/>
<rect x="996" y="420" width="3" height="70" fill="#fff"/>
<rect x="1005" y="411" width="1" height="46" fill="#000"/>
<rect x="1003" y="419" width="5" height="28" fill="#000"/>
<rect x="1013" y="433" width="1" height="32" fill="#000"/>
<rect x="1011" y="445" width="5" height="20" fill="#000"/>
<rect x="1021" y="448" width="1" height="16" fill="#000"/>
<rect x="1019" y="450" width="5" height="14" fill="#000"/>
<rect x="1020" y="451" width="3" height="12" fill="#fff"/>
<rect x="1029" y="439" width="1" height="15" fill="#000"/>
<rect x="1027" y="448" width="5" height="3" fill="#000"/>
<rect x="1028" y="449" width="3" height="1" fill="#fff"/>
<rect x="1037" y="400" width="1" height="49" fill="#000"/>
<rect x="1035" y="419" width="5" height="30" fill="#000"/>
<rect x="1036" y="420" width="3" height="28" fill="#fff"/>
<rect x="1045" y="375" width="1" height="53" fill="#000"/>
<rect x="1043" y="404" width="5" height="16" fill="#000"/>
<rect x="1044" y="405" width="3" height="14" fill="#fff"/>
<rect x="1053" y="403" width="1" height="81" fill="#000"/>
<rect x="1051" y="404" width="5" height="67" fill="#000"/>
<rect x="1061" y="432" width="1" height="100" fill="#000"/>
<rect x="1059" y="437" width="5" height="34" fill="#000"/>
<rect x="1060" y="438" width="3" height="32" fill="#fff"/>
<rect x="1069" y="388" width="1" height="62" fill="#000"/>
<rect x="1067" y="404" width="5" height="34" fill="#000"/>
<rect x="1068" y="405" width="3" height="32" fill="#fff"/>
<rect x="1077" y="402" width="1" height="22" fill="#000"/>
<rect x="1075" y="403" width="5" height="16" fill="#000"/>
<rect x="1085" y="398" width="1" height="36" fill="#000"/>
<rect x="1083" y="401" width="5" height="17" fill="#000"/>
<rect x="1084" y="402" width="3" height="15" fill="#fff"/>
<rect x="1093" y="345" width="1" height="66" fill="#000"/>
<rect x="1091" y="383" width="5" height="19" fill="#000"/>
<rect x="1092" y="384" width="3" height="17" fill="#fff"/>
<rect x="1101" y="245" width="1" height="140" fill="#000"/>
<rect x="1099" y="307" width="5" height="78" fill="#000"/>
<rect x="1100" y="308" width="3" height="76" fill="#fff"/>
<rect x="1109" y="303" width="1" height="42" fill="#000"/>
<rect x="1107" y="307" width="5" height="31" fill="#000"/>
<rect x="1117" y="310" width="1" height="38" fill="#000"/>
<rect x="1115" y="319" width="5" height="19" fill="#000"/>
<rect x="1116" y="320" width="3" height="17" fill="#fff"/>
<rect x="1125" y="306" width="1" height="19" fill="#000"/>
<rect x="1123" y="319" width="5" height="3" fill="#000"/>
<rect x="1133" y="295" width="1" height="47" fill="#000"/>
<rect x="1131" y="321" width="5" height="17" fill="#000"/>
<rect x="1141" y="294" width="1" height="84" fill="#000"/>
<rect x="1139" y="338" width="5" height="31" fill="#000"/>
<rect x="1149" y="344" width="1" height="60" fill="#000"/>
<rect x="1147" y="368" width="5" height="36" fill="#000"/>
<rect x="1157" y="387" width="1" height="39" fill="#000"/>
<rect x="1155" y="403" width="5" height="18" fill="#000"/>
<rect x="1165" y="438" width="1" height="23" fill="#000"/>
<rect x="1163" y="442" width="5" height="10" fill="#000"/>
<rect x="1173" y="441" width="1" height="21" fill="#000"/>
<rect x="1171" y="450" width="5" height="5" fill="#000"/>
<rect x="1181" y="451" width="1" height="38" fill="#000"/>
<rect x="1179" y="455" width="5" height="19" fill="#000"/>
<rect x="1189" y="473" width="1" height="57" fill="#000"/>
<rect x="1187" y="473" width="5" height="15" fill="#000"/>
<rect x="1197" y="429" width="1" height="61" fill="#000"/>
<rect x="1195" y="461" width="5" height="27" fill="#000"/>
<rect x="1196" y="462" width="3" height="25" fill="#fff"/>
<rect x="1205" y="451" width="1" height="38" fill="#000"/>
<rect x="1203" y="462" width="5" height="27" fill="#000"/>
<rect x="1213" y="473" width="1" height="19" fill="#000"/>
<rect x="1211" y="479" width="5" height="11" fill="#000"/>
<rect x="1212" y="480" width="3" height="9" fill="#fff"/>
<rect x="1221" y="472" width="1" height="24" fill="#000"/>
<rect x="1219" y="474" width="5" height="5" fill="#000"/>
<rect x="1220" y="475" width="3" height="3" fill="#fff"/>
<rect x="1229" y="458" width="1" height="23" fill="#000"/>
<rect x="1227" y="462" width="5" height="14" fill="#000"/>
<rect x="1228" y="463" width="3" height="12" fill="#fff"/>
<rect x="1237" y="405" width="1" height="62" fill="#000"/>
<rect x="1235" y="428" width="5" height="35" fill="#000"/>
<rect x="1236" y="429" width="3" height="33" fill="#fff"/>
<rect x="1245" y="405" width="1" height="44" fill="#000"/>
<rect x="1243" y="429" width="5" height="17" fill="#000"/>
<rect x="1253" y="396" width="1" height="53" fill="#000"/>
<rect x="1251" y="401" width="5" height="45" fill="#000"/>
<rect x="1252" y="402" width="3" height="43" fill="#fff"/>
<rect x="1261" y="392" width="1" height="37" fill="#000"/>
<rect x="1259" y="396" width="5" height="6" fill="#000"/>
<rect x="1260" y="397" width="3" height="4" fill="#fff"/>
<rect x="1269" y="386" width="1" height="28" fill="#000"/>
<rect x="1267" y="394" width="5" height="20" fill="#000"/>
<rect x="1277" y="386" width="1" height="50" fill="#000"/>
<rect x="1275" y="388" width="5" height="25" fill="#000"/>
<rect x="1276" y="389" width="3" height="23" fill="#fff"/>
<rect x="1285" y="314" width="1" height="88" fill="#000"/>
<rect x="1283" y="331" width="5" height="58" fill="#000"/>
<rect x="1284" y="332" width="3" height="56" fill="#fff"/>
<rect x="1293" y="285" width="1" height="65" fill="#000"/>
<rect x="1291" y="288" width="5" height="44" fill="#000"/>
<rect x="1292" y="289" width="3" height="42" fill="#fff"/>
<rect x="1301" y="262" width="1" height="31" fill="#000"/>
<rect x="1299" y="266" width="5" height="23" fill="#000"/>
<rect x="1300" y="267" width="3" height="21" fill="#fff"/>
<rect x="1309" y="261" width="1" height="28" fill="#000"/>
<rect x="1307" y="267" width="5" height="13" fill="#000"/>
<rect x="1317" y="265" width="1" height="26" fill="#000"/>
<rect x="1315" y="279" width="5" height="3" fill="#000"/>
<rect x="1325" y="251" width="1" height="33" fill="#000"/>
<rect x="1323" y="251" width="5" height="31" fill="#000"/>
<rect x="1324" y="252" width="3" height="29" fill="#fff"/>
<rect x="1333" y="155" width="1" height="102" fill="#000"/>
<rect x="1331" y="162" width="5" height="91" fill="#000"/>
<rect x="1332" y="163" width="3" height="89" fill="#fff"/>
<rect x="1341" y="155" width="1" height="63" fill="#000"/>
<rect x="1339" y="162" width="5" height="34" fill="#000"/>
<rect x="1349" y="180" width="1" height="31" fill="#000"/>
<rect x="1347" y="182" width="5" height="14" fill="#000"/>
<rect x="1348" y="183" width="3" height="12" fill="#fff"/>
<rect x="1357" y="182" width="1" height="27" fill="#000"/>
<rect x="1355" y="182" width="5" height="24" fill="#000"/>
<rect x="1365" y="192" width="1" height="19" fill="#000"/>
<rect x="1363" y="200" width="5" height="6" fill="#000"/>
<rect x="1364" y="201" width="3" height="4" fill="#fff"/>
<rect x="1373" y="186" width="1" height="39" fill="#000"/>
<rect x="1371" y="200" width="5" height="2" fill="#000"/>
<rect x="1381" y="183" width="1" height="42" fill="#000"/>
<rect x="1379" y="190" width="5" height="11" fill="#000"/>
<rect x="1380" y="191" width="3" height="9" fill="#fff"/>
<rect x="1389" y="180" width="1" height="38" fill="#000"/>
<rect x="1387" y="190" width="5" height="28" fill="#000"/>
<rect x="1397" y="198" width="1" height="40" fill="#000"/>
<rect x="1395" y="216" width="5" height="2" fill="#000"/>
<rect x="1405" y="199" width="1" height="17" fill="#000"/>
<rect x="1403" y="205" width="5" height="9" fill="#000"/>
<rect x="1404" y="206" width="3" height="7" fill="#fff"/>
<rect x="1413" y="186" width="1" height="36" fill="#000"/>
<rect x="1411" y="189" width="5" height="17" fill="#000"/>
<rect x="1412" y="190" width="3" height="15" fill="#fff"/>
<rect x="1421" y="189" width="1" height="32" fill="#000"/>
<rect x="1419" y="189" width="5" height="5" fill="#000"/>
<rect x="1429" y="182" width="1" height="37" fill="#000"/>
<rect x="1427" y="194" width="5" height="11" fill="#000"/>
<rect x="1437" y="149" width="1" height="65" fill="#000"/>
<rect x="1435" y="186" width="5" height="21" fill="#000"/>
<rect x="1436" y="187" width="3" height="19" fill="#fff"/>
<rect x="1445" y="145" width="1" height="44" fill="#000"/>
<rect x="1443" y="150" width="5" height="37" fill="#000"/>
<rect x="1444" y="151" width="3" height="35" fill="#fff"/>
<rect x="1453" y="145" width="1" height="8" fill="#000"/>
<rect x="1451" y="150" width="5" height="3" fill="#000"/>
</g>
</g>
<rect x="1643.5" y="98.5" width="4" height="4" fill="#fff" stroke="#ff4500" stroke-width="1" shape-rendering="crispEdges"/>
<rect x="1643.5" y="125.5" width="4" height="4" fill="#fff" stroke="#ff0000" stroke-width="1" shape-rendering="crispEdges"/>
<rect x="1643.5" y="161.5" width="4" height="4" fill="#fff" stroke="#32cd32" stroke-width="1" shape-rendering="crispEdges"/>
<rect x="1643.5" y="183.5" width="4" height="4" fill="#fff" stroke="#0000ff" stroke-width="1" shape-rendering="crispEdges"/>
<rect x="1643.5" y="210.5" width="4" height="4" fill="#fff" stroke="#0000ff" stroke-width="1" shape-rendering="crispEdges"/>
<rect x="1390" y="158" width="127" height="9" fill="#00ff00"/>
<rect x="1158" y="163" width="8" height="1" fill="#ff0000"/>
<rect x="1164.5" y="161.5" width="3" height="3" fill="#fff" stroke="#ff0000" shape-rendering="crispEdges"/>
<rect x="1168.5" y="151.5" width="73" height="24" fill="#fff" stroke="#ff0000" stroke-width="1" shape-rendering="crispEdges"/>
<text x="1170.5" y="172.2" font-size="23" fill="#ff0000" font-weight="normal" text-anchor="start" textLength="69.5" lengthAdjust="spacingAndGlyphs" >1.34312</text>
<rect x="1091" y="243" width="11" height="1" fill="#ff0000"/>
<rect x="1030.5" y="234.5" width="61" height="18" fill="#fff" stroke="#ff0000" stroke-width="1" shape-rendering="crispEdges"/>
<text x="1033" y="249.8" font-size="16.5" fill="#ff0000" font-weight="normal" text-anchor="start" textLength="56" lengthAdjust="spacingAndGlyphs" >1.33744</text>
<rect x="1179" y="529" width="11" height="1" fill="#ff0000"/>
<rect x="1189" y="512" width="1" height="18" fill="#000"/>
<rect x="1118.5" y="521.5" width="61" height="18" fill="#fff" stroke="#ff0000" stroke-width="1" shape-rendering="crispEdges"/>
<text x="1121" y="536.8" font-size="16.5" fill="#ff0000" font-weight="normal" text-anchor="start" textLength="56" lengthAdjust="spacingAndGlyphs" >1.31715</text>
<rect x="1447" y="145" width="7" height="1" fill="#ff0000"/>
<rect x="1444.5" y="143.5" width="3" height="3" fill="#fff" stroke="#ff0000" shape-rendering="crispEdges"/>
<rect x="1453" y="145" width="1" height="6" fill="#000"/>
<rect x="1382.5" y="136.5" width="61" height="18" fill="#fff" stroke="#ff0000" stroke-width="1" shape-rendering="crispEdges"/>
<text x="1385" y="151.8" font-size="16.5" fill="#ff0000" font-weight="normal" text-anchor="start" textLength="56" lengthAdjust="spacingAndGlyphs" >1.34439</text>
<line x1="1208.7" y1="496.9" x2="1332.4" y2="162.6" stroke="#ff0000" stroke-width="4" stroke-linecap="round"/>
<path d="M1335.5 154.2 L1336.8 166.4 L1326.5 162.6 Z" fill="#ff0000"/>
<line x1="1335.5" y1="154.2" x2="1398.3" y2="230.8" stroke="#ff0000" stroke-width="4" stroke-linecap="round"/>
<path d="M1404.0 237.8 L1392.8 232.8 L1401.3 225.8 Z" fill="#ff0000"/>
<line x1="1404.0" y1="237.8" x2="1466.6" y2="151.1" stroke="#ff0000" stroke-width="4" stroke-linecap="round"/>
<path d="M1471.9 143.8 L1469.9 155.9 L1461.0 149.5 Z" fill="#ff0000"/>
<text x="4" y="33.5" font-size="10" fill="#000" font-weight="normal" text-anchor="start" textLength="205" lengthAdjust="spacingAndGlyphs" >GBPUSD-,H4&#160;&#160;1.34408 1.34441 1.34357 1.34393</text>
<path d="M54.5 39 V36.5 H115.5 V39" fill="none" stroke="#ff0000" stroke-width="1" shape-rendering="crispEdges"/>
<g id="panel">
<rect x="0" y="42" width="213" height="59" fill="#fff"/>
<rect x="0" y="42" width="44" height="24" fill="url(#gBtn)"/>
<rect x="43" y="42" width="1" height="24" fill="#a80000"/>
<rect x="0" y="42" width="44" height="1" fill="#a80000"/>
<rect x="159" y="42" width="52" height="24" fill="url(#gBtn)"/>
<rect x="159" y="42" width="52" height="1" fill="#a80000"/>
<rect x="159" y="42" width="1" height="24" fill="#a80000"/>
<rect x="210" y="42" width="1" height="57" fill="#a80000"/>
<rect x="0" y="65" width="101" height="34" fill="url(#gPrice)"/>
<rect x="103" y="65" width="108" height="34" fill="url(#gPrice)"/>
<rect x="100" y="65" width="1" height="34" fill="#a00000"/>
<rect x="103" y="65" width="1" height="34" fill="#a00000"/>
<rect x="0" y="98" width="101" height="1" fill="#a00000"/>
<rect x="103" y="98" width="108" height="1" fill="#a00000"/>
<rect x="44" y="42" width="115" height="24" fill="#fff"/>
<rect x="44" y="64" width="115" height="2" fill="#fff"/>
<rect x="0" y="65" width="40" height="1" fill="#7a0000"/>
<rect x="0" y="66" width="40" height="1" fill="#f07070"/>
<rect x="163" y="65" width="44" height="1" fill="#7a0000"/>
<rect x="163" y="66" width="44" height="1" fill="#f07070"/>
<rect x="46.5" y="42.5" width="110" height="21" fill="#fff" stroke="#a8a8a8" shape-rendering="crispEdges"/>
<rect x="47" y="43" width="20" height="20" fill="url(#gSpin)"/>
<rect x="67" y="43" width="1" height="20" fill="#a8a8a8"/>
<rect x="136" y="43" width="20" height="20" fill="url(#gSpin)"/>
<rect x="135" y="43" width="1" height="20" fill="#a8a8a8"/>
<path d="M54 51.5 L60 51.5 L57 54.5 Z" fill="#4a5fc8"/>
<path d="M142.5 55 L148.5 55 L145.5 52 Z" fill="#4a5fc8"/>
<text x="131.8" y="57.5" font-size="13" fill="#000" font-weight="normal" text-anchor="end" textLength="23" lengthAdjust="spacingAndGlyphs" >1.00</text>
<text x="4.5" y="58" font-size="12" fill="#fff" font-weight="normal" text-anchor="start" textLength="25.5" lengthAdjust="spacingAndGlyphs" >SELL</text>
<text x="173" y="58" font-size="12" fill="#fff" font-weight="normal" text-anchor="start" textLength="23" lengthAdjust="spacingAndGlyphs" >BUY</text>
<text x="12" y="93.8" font-size="12" fill="#fff" font-weight="bold" text-anchor="start" textLength="23" lengthAdjust="spacingAndGlyphs" >1.34</text>
<text x="41" y="94" font-size="33" fill="#fff" font-weight="normal" text-anchor="start" textLength="32.5" lengthAdjust="spacingAndGlyphs" >39</text>
<text x="80" y="77.8" font-size="11" fill="#fff" font-weight="bold" text-anchor="start" textLength="6" lengthAdjust="spacingAndGlyphs" >3</text>
<text x="122.6" y="93.8" font-size="12" fill="#fff" font-weight="bold" text-anchor="start" textLength="23" lengthAdjust="spacingAndGlyphs" >1.34</text>
<text x="150.2" y="94" font-size="33" fill="#fff" font-weight="normal" text-anchor="start" textLength="33.5" lengthAdjust="spacingAndGlyphs" >42</text>
<text x="190.2" y="77.8" font-size="11" fill="#fff" font-weight="bold" text-anchor="start" textLength="6.5" lengthAdjust="spacingAndGlyphs" >2</text>
</g>
<rect x="1649" y="26" width="3" height="1" fill="#000"/>
<text x="1654.5" y="30" font-size="10" fill="#000" font-weight="normal" text-anchor="start" textLength="32" lengthAdjust="spacingAndGlyphs" >1.35280</text>
<rect x="1649" y="59" width="3" height="1" fill="#000"/>
<text x="1654.5" y="63" font-size="10" fill="#000" font-weight="normal" text-anchor="start" textLength="32" lengthAdjust="spacingAndGlyphs" >1.35050</text>
<rect x="1649" y="92" width="3" height="1" fill="#000"/>
<text x="1654.5" y="96" font-size="10" fill="#000" font-weight="normal" text-anchor="start" textLength="32" lengthAdjust="spacingAndGlyphs" >1.34815</text>
<rect x="1649" y="125" width="3" height="1" fill="#000"/>
<text x="1654.5" y="129" font-size="10" fill="#000" font-weight="normal" text-anchor="start" textLength="32" lengthAdjust="spacingAndGlyphs" >1.34580</text>
<rect x="1649" y="158" width="3" height="1" fill="#000"/>
<text x="1654.5" y="162" font-size="10" fill="#000" font-weight="normal" text-anchor="start" textLength="32" lengthAdjust="spacingAndGlyphs" >1.34345</text>
<rect x="1649" y="191" width="3" height="1" fill="#000"/>
<text x="1654.5" y="195" font-size="10" fill="#000" font-weight="normal" text-anchor="start" textLength="32" lengthAdjust="spacingAndGlyphs" >1.34115</text>
<rect x="1649" y="224" width="3" height="1" fill="#000"/>
<text x="1654.5" y="228" font-size="10" fill="#000" font-weight="normal" text-anchor="start" textLength="32" lengthAdjust="spacingAndGlyphs" >1.33880</text>
<rect x="1649" y="257" width="3" height="1" fill="#000"/>
<text x="1654.5" y="261" font-size="10" fill="#000" font-weight="normal" text-anchor="start" textLength="32" lengthAdjust="spacingAndGlyphs" >1.33645</text>
<rect x="1649" y="290" width="3" height="1" fill="#000"/>
<text x="1654.5" y="294" font-size="10" fill="#000" font-weight="normal" text-anchor="start" textLength="32" lengthAdjust="spacingAndGlyphs" >1.33415</text>
<rect x="1649" y="323" width="3" height="1" fill="#000"/>
<text x="1654.5" y="327" font-size="10" fill="#000" font-weight="normal" text-anchor="start" textLength="32" lengthAdjust="spacingAndGlyphs" >1.33180</text>
<rect x="1649" y="356" width="3" height="1" fill="#000"/>
<text x="1654.5" y="360" font-size="10" fill="#000" font-weight="normal" text-anchor="start" textLength="32" lengthAdjust="spacingAndGlyphs" >1.32945</text>
<rect x="1649" y="389" width="3" height="1" fill="#000"/>
<text x="1654.5" y="393" font-size="10" fill="#000" font-weight="normal" text-anchor="start" textLength="32" lengthAdjust="spacingAndGlyphs" >1.32715</text>
<rect x="1649" y="422" width="3" height="1" fill="#000"/>
<text x="1654.5" y="426" font-size="10" fill="#000" font-weight="normal" text-anchor="start" textLength="32" lengthAdjust="spacingAndGlyphs" >1.32480</text>
<rect x="1649" y="455" width="3" height="1" fill="#000"/>
<text x="1654.5" y="459" font-size="10" fill="#000" font-weight="normal" text-anchor="start" textLength="32" lengthAdjust="spacingAndGlyphs" >1.32245</text>
<rect x="1649" y="488" width="3" height="1" fill="#000"/>
<text x="1654.5" y="492" font-size="10" fill="#000" font-weight="normal" text-anchor="start" textLength="32" lengthAdjust="spacingAndGlyphs" >1.32015</text>
<rect x="1649" y="521" width="3" height="1" fill="#000"/>
<text x="1654.5" y="525" font-size="10" fill="#000" font-weight="normal" text-anchor="start" textLength="32" lengthAdjust="spacingAndGlyphs" >1.31780</text>
<rect x="1649" y="554" width="3" height="1" fill="#000"/>
<text x="1654.5" y="558" font-size="10" fill="#000" font-weight="normal" text-anchor="start" textLength="32" lengthAdjust="spacingAndGlyphs" >1.31545</text>
<rect x="1650" y="94" width="41" height="11" fill="#ff4500"/>
<text x="1654.5" y="103" font-size="10" fill="#fff" font-weight="normal" text-anchor="start" textLength="32" lengthAdjust="spacingAndGlyphs" >1.34756</text>
<rect x="1650" y="121" width="41" height="11" fill="#ff0000"/>
<text x="1654.5" y="130" font-size="10" fill="#fff" font-weight="normal" text-anchor="start" textLength="32" lengthAdjust="spacingAndGlyphs" >1.34566</text>
<rect x="1650" y="147" width="41" height="11" fill="#000000"/>
<text x="1654.5" y="156" font-size="10" fill="#fff" font-weight="normal" text-anchor="start" textLength="32" lengthAdjust="spacingAndGlyphs" >1.34393</text>
<rect x="1650" y="157" width="41" height="11" fill="#32cd32"/>
<text x="1654.5" y="166" font-size="10" fill="#fff" font-weight="normal" text-anchor="start" textLength="32" lengthAdjust="spacingAndGlyphs" >1.34312</text>
<rect x="1650" y="179" width="41" height="11" fill="#0000ff"/>
<text x="1654.5" y="188" font-size="10" fill="#fff" font-weight="normal" text-anchor="start" textLength="32" lengthAdjust="spacingAndGlyphs" >1.34156</text>
<rect x="1650" y="206" width="41" height="11" fill="#0000ff"/>
<text x="1654.5" y="215" font-size="10" fill="#fff" font-weight="normal" text-anchor="start" textLength="32" lengthAdjust="spacingAndGlyphs" >1.33966</text>
<rect x="0" y="559" width="1649" height="1" fill="#000"/>
<rect x="1648" y="559" width="1" height="220" fill="#000"/>
<rect x="0" y="778" width="1649" height="1" fill="#000"/>
<g clip-path="url(#cMacd)" shape-rendering="crispEdges">
<rect x="5" y="672" width="1" height="48" fill="#c0c0c0"/>
<rect x="13" y="672" width="1" height="46" fill="#c0c0c0"/>
<rect x="21" y="672" width="1" height="40" fill="#c0c0c0"/>
<rect x="29" y="672" width="1" height="30" fill="#c0c0c0"/>
<rect x="37" y="672" width="1" height="24" fill="#c0c0c0"/>
<rect x="45" y="672" width="1" height="24" fill="#c0c0c0"/>
<rect x="53" y="672" width="1" height="22" fill="#c0c0c0"/>
<rect x="61" y="672" width="1" height="22" fill="#c0c0c0"/>
<rect x="69" y="672" width="1" height="23" fill="#c0c0c0"/>
<rect x="77" y="672" width="1" height="17" fill="#c0c0c0"/>
<rect x="85" y="672" width="1" height="11" fill="#c0c0c0"/>
<rect x="93" y="672" width="1" height="5" fill="#c0c0c0"/>
<rect x="101" y="668" width="1" height="4" fill="#c0c0c0"/>
<rect x="109" y="661" width="1" height="11" fill="#c0c0c0"/>
<rect x="117" y="654" width="1" height="18" fill="#c0c0c0"/>
<rect x="125" y="646" width="1" height="26" fill="#c0c0c0"/>
<rect x="133" y="644" width="1" height="28" fill="#c0c0c0"/>
<rect x="141" y="645" width="1" height="27" fill="#c0c0c0"/>
<rect x="149" y="642" width="1" height="30" fill="#c0c0c0"/>
<rect x="157" y="640" width="1" height="32" fill="#c0c0c0"/>
<rect x="165" y="641" width="1" height="31" fill="#c0c0c0"/>
<rect x="173" y="641" width="1" height="31" fill="#c0c0c0"/>
<rect x="181" y="649" width="1" height="23" fill="#c0c0c0"/>
<rect x="189" y="654" width="1" height="18" fill="#c0c0c0"/>
<rect x="197" y="661" width="1" height="11" fill="#c0c0c0"/>
<rect x="205" y="668" width="1" height="4" fill="#c0c0c0"/>
<rect x="213" y="672" width="1" height="1" fill="#c0c0c0"/>
<rect x="221" y="672" width="1" height="7" fill="#c0c0c0"/>
<rect x="229" y="672" width="1" height="8" fill="#c0c0c0"/>
<rect x="237" y="672" width="1" height="18" fill="#c0c0c0"/>
<rect x="245" y="672" width="1" height="27" fill="#c0c0c0"/>
<rect x="253" y="672" width="1" height="32" fill="#c0c0c0"/>
<rect x="261" y="672" width="1" height="36" fill="#c0c0c0"/>
<rect x="269" y="672" width="1" height="38" fill="#c0c0c0"/>
<rect x="277" y="672" width="1" height="47" fill="#c0c0c0"/>
<rect x="285" y="672" width="1" height="51" fill="#c0c0c0"/>
<rect x="293" y="672" width="1" height="52" fill="#c0c0c0"/>
<rect x="301" y="672" width="1" height="53" fill="#c0c0c0"/>
<rect x="309" y="672" width="1" height="54" fill="#c0c0c0"/>
<rect x="317" y="672" width="1" height="54" fill="#c0c0c0"/>
<rect x="325" y="672" width="1" height="53" fill="#c0c0c0"/>
<rect x="333" y="672" width="1" height="60" fill="#c0c0c0"/>
<rect x="341" y="672" width="1" height="66" fill="#c0c0c0"/>
<rect x="349" y="672" width="1" height="68" fill="#c0c0c0"/>
<rect x="357" y="672" width="1" height="66" fill="#c0c0c0"/>
<rect x="365" y="672" width="1" height="63" fill="#c0c0c0"/>
<rect x="373" y="672" width="1" height="65" fill="#c0c0c0"/>
<rect x="381" y="672" width="1" height="67" fill="#c0c0c0"/>
<rect x="389" y="672" width="1" height="67" fill="#c0c0c0"/>
<rect x="397" y="672" width="1" height="68" fill="#c0c0c0"/>
<rect x="405" y="672" width="1" height="70" fill="#c0c0c0"/>
<rect x="413" y="672" width="1" height="70" fill="#c0c0c0"/>
<rect x="421" y="672" width="1" height="65" fill="#c0c0c0"/>
<rect x="429" y="672" width="1" height="59" fill="#c0c0c0"/>
<rect x="437" y="672" width="1" height="54" fill="#c0c0c0"/>
<rect x="445" y="672" width="1" height="48" fill="#c0c0c0"/>
<rect x="453" y="672" width="1" height="44" fill="#c0c0c0"/>
<rect x="461" y="672" width="1" height="41" fill="#c0c0c0"/>
<rect x="469" y="672" width="1" height="36" fill="#c0c0c0"/>
<rect x="477" y="672" width="1" height="41" fill="#c0c0c0"/>
<rect x="485" y="672" width="1" height="44" fill="#c0c0c0"/>
<rect x="493" y="672" width="1" height="42" fill="#c0c0c0"/>
<rect x="501" y="672" width="1" height="39" fill="#c0c0c0"/>
<rect x="509" y="672" width="1" height="35" fill="#c0c0c0"/>
<rect x="517" y="672" width="1" height="29" fill="#c0c0c0"/>
<rect x="525" y="672" width="1" height="43" fill="#c0c0c0"/>
<rect x="533" y="672" width="1" height="45" fill="#c0c0c0"/>
<rect x="541" y="672" width="1" height="44" fill="#c0c0c0"/>
<rect x="549" y="672" width="1" height="39" fill="#c0c0c0"/>
<rect x="557" y="672" width="1" height="34" fill="#c0c0c0"/>
<rect x="565" y="672" width="1" height="29" fill="#c0c0c0"/>
<rect x="573" y="672" width="1" height="26" fill="#c0c0c0"/>
<rect x="581" y="672" width="1" height="30" fill="#c0c0c0"/>
<rect x="589" y="672" width="1" height="33" fill="#c0c0c0"/>
<rect x="597" y="672" width="1" height="31" fill="#c0c0c0"/>
<rect x="605" y="672" width="1" height="32" fill="#c0c0c0"/>
<rect x="613" y="672" width="1" height="24" fill="#c0c0c0"/>
<rect x="621" y="672" width="1" height="22" fill="#c0c0c0"/>
<rect x="629" y="672" width="1" height="21" fill="#c0c0c0"/>
<rect x="637" y="672" width="1" height="20" fill="#c0c0c0"/>
<rect x="645" y="672" width="1" height="21" fill="#c0c0c0"/>
<rect x="653" y="672" width="1" height="24" fill="#c0c0c0"/>
<rect x="661" y="672" width="1" height="25" fill="#c0c0c0"/>
<rect x="669" y="672" width="1" height="38" fill="#c0c0c0"/>
<rect x="677" y="672" width="1" height="45" fill="#c0c0c0"/>
<rect x="685" y="672" width="1" height="48" fill="#c0c0c0"/>
<rect x="693" y="672" width="1" height="51" fill="#c0c0c0"/>
<rect x="701" y="672" width="1" height="53" fill="#c0c0c0"/>
<rect x="709" y="672" width="1" height="45" fill="#c0c0c0"/>
<rect x="717" y="672" width="1" height="46" fill="#c0c0c0"/>
<rect x="725" y="672" width="1" height="43" fill="#c0c0c0"/>
<rect x="733" y="672" width="1" height="39" fill="#c0c0c0"/>
<rect x="741" y="672" width="1" height="31" fill="#c0c0c0"/>
<rect x="749" y="672" width="1" height="25" fill="#c0c0c0"/>
<rect x="757" y="672" width="1" height="26" fill="#c0c0c0"/>
<rect x="765" y="672" width="1" height="29" fill="#c0c0c0"/>
<rect x="773" y="672" width="1" height="31" fill="#c0c0c0"/>
<rect x="781" y="672" width="1" height="30" fill="#c0c0c0"/>
<rect x="789" y="672" width="1" height="27" fill="#c0c0c0"/>
<rect x="797" y="672" width="1" height="26" fill="#c0c0c0"/>
<rect x="805" y="672" width="1" height="32" fill="#c0c0c0"/>
<rect x="813" y="672" width="1" height="36" fill="#c0c0c0"/>
<rect x="821" y="672" width="1" height="35" fill="#c0c0c0"/>
<rect x="829" y="672" width="1" height="38" fill="#c0c0c0"/>
<rect x="837" y="672" width="1" height="40" fill="#c0c0c0"/>
<rect x="845" y="672" width="1" height="43" fill="#c0c0c0"/>
<rect x="853" y="672" width="1" height="47" fill="#c0c0c0"/>
<rect x="861" y="672" width="1" height="47" fill="#c0c0c0"/>
<rect x="869" y="672" width="1" height="45" fill="#c0c0c0"/>
<rect x="877" y="672" width="1" height="40" fill="#c0c0c0"/>
<rect x="885" y="672" width="1" height="35" fill="#c0c0c0"/>
<rect x="893" y="672" width="1" height="34" fill="#c0c0c0"/>
<rect x="901" y="672" width="1" height="34" fill="#c0c0c0"/>
<rect x="909" y="672" width="1" height="30" fill="#c0c0c0"/>
<rect x="917" y="672" width="1" height="20" fill="#c0c0c0"/>
<rect x="925" y="672" width="1" height="13" fill="#c0c0c0"/>
<rect x="933" y="672" width="1" height="8" fill="#c0c0c0"/>
<rect x="941" y="672" width="1" height="7" fill="#c0c0c0"/>
<rect x="949" y="672" width="1" height="1" fill="#c0c0c0"/>
<rect x="957" y="672" width="1" height="2" fill="#c0c0c0"/>
<rect x="965" y="672" width="1" height="5" fill="#c0c0c0"/>
<rect x="973" y="672" width="1" height="9" fill="#c0c0c0"/>
<rect x="981" y="672" width="1" height="15" fill="#c0c0c0"/>
<rect x="989" y="672" width="1" height="18" fill="#c0c0c0"/>
<rect x="997" y="672" width="1" height="11" fill="#c0c0c0"/>
<rect x="1005" y="672" width="1" height="9" fill="#c0c0c0"/>
<rect x="1013" y="672" width="1" height="9" fill="#c0c0c0"/>
<rect x="1021" y="672" width="1" height="8" fill="#c0c0c0"/>
<rect x="1029" y="672" width="1" height="6" fill="#c0c0c0"/>
<rect x="1037" y="672" width="1" height="1" fill="#c0c0c0"/>
<rect x="1045" y="668" width="1" height="4" fill="#c0c0c0"/>
<rect x="1053" y="672" width="1" height="1" fill="#c0c0c0"/>
<rect x="1061" y="671" width="1" height="1" fill="#c0c0c0"/>
<rect x="1069" y="666" width="1" height="6" fill="#c0c0c0"/>
<rect x="1077" y="664" width="1" height="8" fill="#c0c0c0"/>
<rect x="1085" y="660" width="1" height="12" fill="#c0c0c0"/>
<rect x="1093" y="655" width="1" height="17" fill="#c0c0c0"/>
<rect x="1101" y="641" width="1" height="31" fill="#c0c0c0"/>
<rect x="1109" y="635" width="1" height="37" fill="#c0c0c0"/>
<rect x="1117" y="627" width="1" height="45" fill="#c0c0c0"/>
<rect x="1125" y="623" width="1" height="49" fill="#c0c0c0"/>
<rect x="1133" y="622" width="1" height="50" fill="#c0c0c0"/>
<rect x="1141" y="625" width="1" height="47" fill="#c0c0c0"/>
<rect x="1149" y="636" width="1" height="36" fill="#c0c0c0"/>
<rect x="1157" y="643" width="1" height="29" fill="#c0c0c0"/>
<rect x="1165" y="654" width="1" height="18" fill="#c0c0c0"/>
<rect x="1173" y="664" width="1" height="8" fill="#c0c0c0"/>
<rect x="1181" y="672" width="1" height="1" fill="#c0c0c0"/>
<rect x="1189" y="672" width="1" height="11" fill="#c0c0c0"/>
<rect x="1197" y="672" width="1" height="15" fill="#c0c0c0"/>
<rect x="1205" y="672" width="1" height="20" fill="#c0c0c0"/>
<rect x="1213" y="672" width="1" height="25" fill="#c0c0c0"/>
<rect x="1221" y="672" width="1" height="27" fill="#c0c0c0"/>
<rect x="1229" y="672" width="1" height="27" fill="#c0c0c0"/>
<rect x="1237" y="672" width="1" height="22" fill="#c0c0c0"/>
<rect x="1245" y="672" width="1" height="19" fill="#c0c0c0"/>
<rect x="1253" y="672" width="1" height="12" fill="#c0c0c0"/>
<rect x="1261" y="672" width="1" height="5" fill="#c0c0c0"/>
<rect x="1269" y="672" width="1" height="1" fill="#c0c0c0"/>
<rect x="1277" y="670" width="1" height="2" fill="#c0c0c0"/>
<rect x="1285" y="658" width="1" height="14" fill="#c0c0c0"/>
<rect x="1293" y="643" width="1" height="29" fill="#c0c0c0"/>
<rect x="1301" y="629" width="1" height="43" fill="#c0c0c0"/>
<rect x="1309" y="620" width="1" height="52" fill="#c0c0c0"/>
<rect x="1317" y="614" width="1" height="58" fill="#c0c0c0"/>
<rect x="1325" y="606" width="1" height="66" fill="#c0c0c0"/>
<rect x="1333" y="589" width="1" height="83" fill="#c0c0c0"/>
<rect x="1341" y="580" width="1" height="92" fill="#c0c0c0"/>
<rect x="1349" y="573" width="1" height="99" fill="#c0c0c0"/>
<rect x="1357" y="572" width="1" height="100" fill="#c0c0c0"/>
<rect x="1365" y="571" width="1" height="101" fill="#c0c0c0"/>
<rect x="1373" y="572" width="1" height="100" fill="#c0c0c0"/>
<rect x="1381" y="573" width="1" height="99" fill="#c0c0c0"/>
<rect x="1389" y="579" width="1" height="93" fill="#c0c0c0"/>
<rect x="1397" y="582" width="1" height="90" fill="#c0c0c0"/>
<rect x="1405" y="586" width="1" height="86" fill="#c0c0c0"/>
<rect x="1413" y="587" width="1" height="85" fill="#c0c0c0"/>
<rect x="1421" y="590" width="1" height="82" fill="#c0c0c0"/>
<rect x="1429" y="595" width="1" height="77" fill="#c0c0c0"/>
<rect x="1437" y="596" width="1" height="76" fill="#c0c0c0"/>
<rect x="1445" y="594" width="1" height="78" fill="#c0c0c0"/>
<rect x="1453" y="594" width="1" height="78" fill="#c0c0c0"/>
</g>
<g clip-path="url(#cMacd)">
<polyline points="0.5,752.5 8.5,750.5 44.5,717.5 74.5,701.5 124.5,676.5 159.5,652.5 186.5,644.5 203.5,647.5 230.5,661.5 256.5,679.5 299.5,709.5 317.5,721.5 344.5,728.5 370.5,733.5 397.5,738.5 413.5,739.5 441.5,735.5 477.5,722.5 512.5,712.5 538.5,712.5 565.5,709.5 597.5,707.5 617.5,701.5 653.5,697.5 674.5,698.5 697.5,707.5 716.5,714.5 734.5,717.5 759.5,712.5 777.5,706.5 800.5,701.5 812.5,701.5 830.5,704.5 856.5,708.5 874.5,712.5 901.5,713.5 914.5,710.5 944.5,695.5 974.5,681.5 1023.5,682.5 1041.5,681.5 1068.5,673.5 1094.5,665.5 1121.5,648.5 1147.5,635.5 1165.5,633.5 1174.5,636.5 1199.5,654.5 1225.5,681.5 1252.5,692.5 1275.5,688.5 1298.5,672.5 1331.5,636.5 1358.5,601.5 1365.5,594.5 1372.5,589.5 1382.5,581.5 1389.5,578.5 1401.5,575.5 1412.5,576.5 1420.5,578.5 1432.5,581.5 1443.5,585.5 1453.5,589.5" fill="none" stroke="#ff0000" stroke-width="1" stroke-dasharray="3,2" shape-rendering="crispEdges" style="stroke-width:0.9"/>
<line x1="1352.3" y1="573.1" x2="1416.0" y2="595.0" stroke="#ff0000" stroke-width="3.5" stroke-linecap="round"/>
<path d="M1423.6 597.6 L1412.5 599.1 L1415.8 589.6 Z" fill="#ff0000"/>
<line x1="1423.6" y1="597.6" x2="1453.1" y2="588.8" stroke="#ff0000" stroke-width="3.5" stroke-linecap="round"/>
<path d="M1460.8 586.5 L1452.6 594.2 L1449.8 584.6 Z" fill="#ff0000"/>
</g>
<text x="-4" y="571.5" font-size="10" fill="#000" font-weight="normal" text-anchor="start" textLength="144.5" lengthAdjust="spacingAndGlyphs" >MACD(12,26,9) 0.003403 0.003601</text>
<rect x="1649" y="561" width="3" height="1" fill="#000"/>
<text x="1652" y="570.5" font-size="10" fill="#000" font-weight="normal" text-anchor="start" textLength="38" lengthAdjust="spacingAndGlyphs" >0.004788</text>
<rect x="1649" y="672" width="3" height="1" fill="#000"/>
<text x="1652" y="676.5" font-size="10" fill="#000" font-weight="normal" text-anchor="start" textLength="18" lengthAdjust="spacingAndGlyphs" >0.00</text>
<rect x="1649" y="777" width="3" height="1" fill="#000"/>
<text x="1651" y="775.5" font-size="10" fill="#000" font-weight="normal" text-anchor="start" textLength="42" lengthAdjust="spacingAndGlyphs" >-0.004547</text>
<rect x="0" y="780" width="1649" height="1" fill="#000"/>
<rect x="1648" y="780" width="1" height="144" fill="#000"/>
<rect x="0" y="923" width="1649" height="1" fill="#000"/>
<line x1="2" y1="810.5" x2="1648" y2="810.5" stroke="#c0c0c0" stroke-width="1" stroke-dasharray="3,3" shape-rendering="crispEdges"/>
<line x1="2" y1="852.5" x2="1648" y2="852.5" stroke="#c0c0c0" stroke-width="1" stroke-dasharray="3,3" shape-rendering="crispEdges"/>
<line x1="2" y1="901.5" x2="1648" y2="901.5" stroke="#c0c0c0" stroke-width="1" stroke-dasharray="3,3" shape-rendering="crispEdges"/>
<g clip-path="url(#cRsi)">
<polyline points="0.5,858.5 5.5,859.5 13.5,866.5 21.5,855.5 29.5,844.5 37.5,850.5 45.5,859.5 53.5,856.5 61.5,857.5 69.5,861.5 77.5,849.5 85.5,847.5 93.5,843.5 101.5,837.5 109.5,836.5 117.5,835.5 125.5,830.5 133.5,840.5 141.5,845.5 149.5,839.5 157.5,838.5 165.5,844.5 173.5,842.5 181.5,858.5 189.5,854.5 197.5,858.5 205.5,863.5 213.5,862.5 221.5,864.5 229.5,858.5 237.5,871.5 245.5,874.5 253.5,869.5 261.5,869.5 269.5,868.5 277.5,879.5 285.5,873.5 293.5,868.5 301.5,870.5 309.5,871.5 317.5,871.5 325.5,871.5 333.5,882.5 341.5,884.5 349.5,880.5 357.5,869.5 365.5,869.5 373.5,876.5 381.5,877.5 389.5,876.5 397.5,877.5 405.5,881.5 413.5,881.5 421.5,865.5 429.5,862.5 437.5,863.5 445.5,859.5 453.5,861.5 461.5,863.5 469.5,856.5 477.5,873.5 485.5,874.5 493.5,863.5 501.5,860.5 509.5,856.5 517.5,851.5 525.5,880.5 533.5,863.5 541.5,860.5 549.5,855.5 557.5,854.5 565.5,852.5 573.5,855.5 581.5,864.5 589.5,864.5 597.5,858.5 605.5,861.5 613.5,848.5 621.5,854.5 629.5,856.5 637.5,856.5 645.5,859.5 653.5,861.5 661.5,863.5 669.5,875.5 677.5,871.5 685.5,869.5 693.5,869.5 701.5,870.5 709.5,853.5 717.5,864.5 725.5,858.5 733.5,856.5 741.5,850.5 749.5,850.5 757.5,858.5 765.5,863.5 773.5,862.5 781.5,860.5 789.5,854.5 797.5,860.5 805.5,867.5 813.5,867.5 821.5,860.5 829.5,866.5 837.5,867.5 845.5,868.5 853.5,872.5 861.5,864.5 869.5,863.5 877.5,857.5 885.5,855.5 893.5,860.5 901.5,865.5 909.5,852.5 917.5,844.5 925.5,844.5 933.5,847.5 941.5,853.5 949.5,844.5 957.5,854.5 965.5,857.5 973.5,859.5 981.5,866.5 989.5,861.5 997.5,846.5 1005.5,851.5 1013.5,855.5 1021.5,852.5 1029.5,852.5 1037.5,845.5 1045.5,842.5 1053.5,857.5 1061.5,851.5 1069.5,844.5 1077.5,847.5 1085.5,844.5 1093.5,841.5 1101.5,829.5 1109.5,836.5 1117.5,834.5 1125.5,834.5 1133.5,837.5 1141.5,845.5 1149.5,852.5 1157.5,856.5 1165.5,861.5 1173.5,863.5 1181.5,866.5 1189.5,868.5 1197.5,862.5 1205.5,867.5 1213.5,864.5 1221.5,863.5 1229.5,859.5 1237.5,851.5 1245.5,855.5 1253.5,845.5 1261.5,843.5 1269.5,848.5 1277.5,843.5 1285.5,831.5 1293.5,826.5 1301.5,823.5 1309.5,827.5 1317.5,828.5 1325.5,823.5 1333.5,814.5 1341.5,820.5 1349.5,822.5 1357.5,828.5 1365.5,826.5 1373.5,828.5 1381.5,826.5 1389.5,834.5 1397.5,834.5 1405.5,831.5 1413.5,830.5 1421.5,831.5 1429.5,834.5 1437.5,831.5 1445.5,824.5 1453.5,825.5" fill="none" stroke="#0584ff" stroke-width="1" shape-rendering="crispEdges" style="stroke-width:0.9"/>
<line x1="1333.1" y1="821.3" x2="1414.6" y2="834.2" stroke="#ff0000" stroke-width="4" stroke-linecap="round"/>
<path d="M1422.5 835.4 L1411.8 838.8 L1413.4 828.9 Z" fill="#ff0000"/>
<line x1="1422.5" y1="835.4" x2="1454.1" y2="821.5" stroke="#ff0000" stroke-width="4" stroke-linecap="round"/>
<path d="M1461.4 818.3 L1454.3 826.9 L1450.2 817.7 Z" fill="#ff0000"/>
</g>
<text x="-8" y="793" font-size="10" fill="#000" font-weight="normal" text-anchor="start" textLength="68" lengthAdjust="spacingAndGlyphs" >RSI(14) 69.1401</text>
<rect x="1649" y="782" width="2" height="1" fill="#000"/><rect x="1649" y="922" width="2" height="1" fill="#000"/>
<text x="1652" y="792" font-size="10" fill="#000" font-weight="normal" text-anchor="start" textLength="14.5" lengthAdjust="spacingAndGlyphs" >100</text>
<text x="1652" y="814" font-size="10" fill="#000" font-weight="normal" text-anchor="start" textLength="10" lengthAdjust="spacingAndGlyphs" >80</text>
<text x="1652" y="856" font-size="10" fill="#000" font-weight="normal" text-anchor="start" textLength="10" lengthAdjust="spacingAndGlyphs" >50</text>
<text x="1652" y="905" font-size="10" fill="#000" font-weight="normal" text-anchor="start" textLength="10" lengthAdjust="spacingAndGlyphs" >15</text>
<text x="1652" y="921" font-size="10" fill="#000" font-weight="normal" text-anchor="start" textLength="5" lengthAdjust="spacingAndGlyphs" >0</text>
<text x="1.5" y="936" font-size="10" fill="#000" font-weight="normal" text-anchor="start" textLength="40" lengthAdjust="spacingAndGlyphs" >Nov 2021</text>
<rect x="53" y="924" width="1" height="3" fill="#000"/>
<text x="54.5" y="936" font-size="10" fill="#000" font-weight="normal" text-anchor="start" textLength="53" lengthAdjust="spacingAndGlyphs" >16 Nov 16:00</text>
<rect x="117" y="924" width="1" height="3" fill="#000"/>
<text x="118.5" y="936" font-size="10" fill="#000" font-weight="normal" text-anchor="start" textLength="53" lengthAdjust="spacingAndGlyphs" >18 Nov 00:00</text>
<rect x="181" y="924" width="1" height="3" fill="#000"/>
<text x="182.5" y="936" font-size="10" fill="#000" font-weight="normal" text-anchor="start" textLength="53" lengthAdjust="spacingAndGlyphs" >19 Nov 08:00</text>
<rect x="245" y="924" width="1" height="3" fill="#000"/>
<text x="246.5" y="936" font-size="10" fill="#000" font-weight="normal" text-anchor="start" textLength="53" lengthAdjust="spacingAndGlyphs" >22 Nov 16:00</text>
<rect x="309" y="924" width="1" height="3" fill="#000"/>
<text x="310.5" y="936" font-size="10" fill="#000" font-weight="normal" text-anchor="start" textLength="53" lengthAdjust="spacingAndGlyphs" >24 Nov 00:00</text>
<rect x="373" y="924" width="1" height="3" fill="#000"/>
<text x="374.5" y="936" font-size="10" fill="#000" font-weight="normal" text-anchor="start" textLength="53" lengthAdjust="spacingAndGlyphs" >25 Nov 08:00</text>
<rect x="437" y="924" width="1" height="3" fill="#000"/>
<text x="438.5" y="936" font-size="10" fill="#000" font-weight="normal" text-anchor="start" textLength="53" lengthAdjust="spacingAndGlyphs" >26 Nov 16:00</text>
<rect x="501" y="924" width="1" height="3" fill="#000"/>
<text x="502.5" y="936" font-size="10" fill="#000" font-weight="normal" text-anchor="start" textLength="53" lengthAdjust="spacingAndGlyphs" >30 Nov 00:00</text>
<rect x="565" y="924" width="1" height="3" fill="#000"/>
<text x="566.5" y="936" font-size="10" fill="#000" font-weight="normal" text-anchor="start" textLength="47" lengthAdjust="spacingAndGlyphs" >1 Dec 08:00</text>
<rect x="629" y="924" width="1" height="3" fill="#000"/>
<text x="630.5" y="936" font-size="10" fill="#000" font-weight="normal" text-anchor="start" textLength="47" lengthAdjust="spacingAndGlyphs" >2 Dec 16:00</text>
<rect x="693" y="924" width="1" height="3" fill="#000"/>
<text x="694.5" y="936" font-size="10" fill="#000" font-weight="normal" text-anchor="start" textLength="47" lengthAdjust="spacingAndGlyphs" >6 Dec 00:00</text>
<rect x="757" y="924" width="1" height="3" fill="#000"/>
<text x="758.5" y="936" font-size="10" fill="#000" font-weight="normal" text-anchor="start" textLength="47" lengthAdjust="spacingAndGlyphs" >7 Dec 08:00</text>
<rect x="821" y="924" width="1" height="3" fill="#000"/>
<text x="822.5" y="936" font-size="10" fill="#000" font-weight="normal" text-anchor="start" textLength="47" lengthAdjust="spacingAndGlyphs" >8 Dec 16:00</text>
<rect x="885" y="924" width="1" height="3" fill="#000"/>
<text x="886.5" y="936" font-size="10" fill="#000" font-weight="normal" text-anchor="start" textLength="53" lengthAdjust="spacingAndGlyphs" >10 Dec 00:00</text>
<rect x="949" y="924" width="1" height="3" fill="#000"/>
<text x="950.5" y="936" font-size="10" fill="#000" font-weight="normal" text-anchor="start" textLength="53" lengthAdjust="spacingAndGlyphs" >13 Dec 08:00</text>
<rect x="1013" y="924" width="1" height="3" fill="#000"/>
<text x="1014.5" y="936" font-size="10" fill="#000" font-weight="normal" text-anchor="start" textLength="53" lengthAdjust="spacingAndGlyphs" >14 Dec 16:00</text>
<rect x="1077" y="924" width="1" height="3" fill="#000"/>
<text x="1078.5" y="936" font-size="10" fill="#000" font-weight="normal" text-anchor="start" textLength="53" lengthAdjust="spacingAndGlyphs" >16 Dec 00:00</text>
<rect x="1141" y="924" width="1" height="3" fill="#000"/>
<text x="1142.5" y="936" font-size="10" fill="#000" font-weight="normal" text-anchor="start" textLength="53" lengthAdjust="spacingAndGlyphs" >17 Dec 08:00</text>
<rect x="1205" y="924" width="1" height="3" fill="#000"/>
<text x="1206.5" y="936" font-size="10" fill="#000" font-weight="normal" text-anchor="start" textLength="53" lengthAdjust="spacingAndGlyphs" >20 Dec 16:00</text>
<rect x="1269" y="924" width="1" height="3" fill="#000"/>
<text x="1270.5" y="936" font-size="10" fill="#000" font-weight="normal" text-anchor="start" textLength="53" lengthAdjust="spacingAndGlyphs" >22 Dec 00:00</text>
<rect x="1333" y="924" width="1" height="3" fill="#000"/>
<text x="1334.5" y="936" font-size="10" fill="#000" font-weight="normal" text-anchor="start" textLength="53" lengthAdjust="spacingAndGlyphs" >23 Dec 08:00</text>
<rect x="1397" y="924" width="1" height="3" fill="#000"/>
<text x="1398.5" y="936" font-size="10" fill="#000" font-weight="normal" text-anchor="start" textLength="53" lengthAdjust="spacingAndGlyphs" >24 Dec 16:00</text>
</svg></body></html>
